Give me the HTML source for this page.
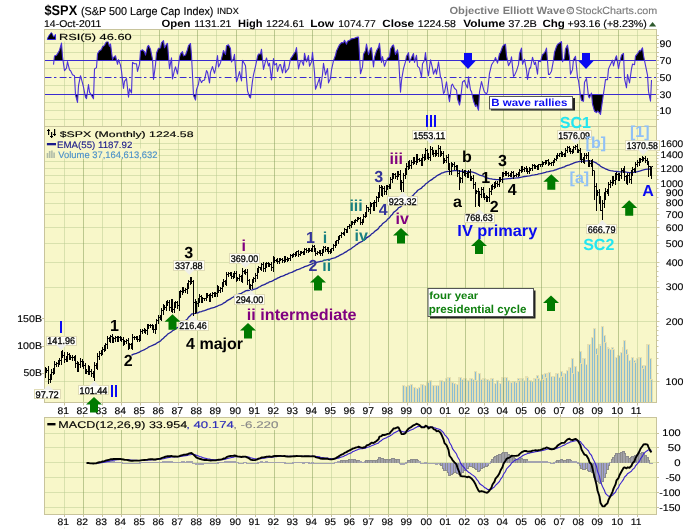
<!DOCTYPE html>
<html><head><meta charset="utf-8"><style>
html,body{margin:0;padding:0;background:#fff;width:700px;height:530px;overflow:hidden}
svg{display:block;will-change:transform}
text{font-family:"Liberation Sans",sans-serif;text-rendering:geometricPrecision}
</style></head><body>
<svg width="700" height="530" viewBox="0 0 700 530">
<rect width="700" height="530" fill="#fff"/>
<rect x="44" y="29" width="613" height="98" fill="#f8f7c9"/>
<rect x="44" y="126" width="613" height="277" fill="#f8f7c9"/>
<rect x="44" y="417" width="613" height="98" fill="#f8f7c9"/>
<rect x="402.0" y="385" width="3" height="17" fill="#e6e1b2"/><rect x="403.0" y="386" width="1" height="16" fill="#8abdd2"/><rect x="404.0" y="386" width="3" height="16" fill="#e6e1b2"/><rect x="405.0" y="387" width="1" height="15" fill="#8abdd2"/><rect x="405.0" y="386" width="3" height="16" fill="#e6e1b2"/><rect x="406.0" y="387" width="1" height="15" fill="#8abdd2"/><rect x="407.0" y="385" width="3" height="17" fill="#e6e1b2"/><rect x="408.0" y="386" width="1" height="16" fill="#8abdd2"/><rect x="408.0" y="385" width="3" height="17" fill="#e6e1b2"/><rect x="409.0" y="386" width="1" height="16" fill="#8abdd2"/><rect x="410.0" y="384" width="3" height="18" fill="#e6e1b2"/><rect x="411.0" y="385" width="1" height="17" fill="#8abdd2"/><rect x="412.0" y="387" width="3" height="15" fill="#e6e1b2"/><rect x="413.0" y="388" width="1" height="14" fill="#8abdd2"/><rect x="413.0" y="387" width="3" height="15" fill="#e6e1b2"/><rect x="414.0" y="388" width="1" height="14" fill="#8abdd2"/><rect x="415.0" y="388" width="3" height="14" fill="#e6e1b2"/><rect x="416.0" y="389" width="1" height="13" fill="#8abdd2"/><rect x="416.0" y="388" width="3" height="14" fill="#e6e1b2"/><rect x="417.0" y="389" width="1" height="13" fill="#8abdd2"/><rect x="418.0" y="387" width="3" height="15" fill="#e6e1b2"/><rect x="419.0" y="388" width="1" height="14" fill="#8abdd2"/><rect x="420.0" y="384" width="3" height="18" fill="#e6e1b2"/><rect x="421.0" y="385" width="1" height="17" fill="#8abdd2"/><rect x="421.0" y="384" width="3" height="18" fill="#e6e1b2"/><rect x="422.0" y="385" width="1" height="17" fill="#8abdd2"/><rect x="423.0" y="385" width="3" height="17" fill="#e6e1b2"/><rect x="424.0" y="386" width="1" height="16" fill="#8abdd2"/><rect x="424.0" y="385" width="3" height="17" fill="#e6e1b2"/><rect x="425.0" y="386" width="1" height="16" fill="#8abdd2"/><rect x="426.0" y="382" width="3" height="20" fill="#e6e1b2"/><rect x="427.0" y="383" width="1" height="19" fill="#8abdd2"/><rect x="427.0" y="382" width="3" height="20" fill="#e6e1b2"/><rect x="428.0" y="383" width="1" height="19" fill="#8abdd2"/><rect x="429.0" y="380" width="3" height="22" fill="#e6e1b2"/><rect x="430.0" y="381" width="1" height="21" fill="#8abdd2"/><rect x="431.0" y="385" width="3" height="17" fill="#e6e1b2"/><rect x="432.0" y="386" width="1" height="16" fill="#8abdd2"/><rect x="432.0" y="385" width="3" height="17" fill="#e6e1b2"/><rect x="433.0" y="386" width="1" height="16" fill="#8abdd2"/><rect x="434.0" y="385" width="3" height="17" fill="#e6e1b2"/><rect x="435.0" y="386" width="1" height="16" fill="#8abdd2"/><rect x="435.0" y="385" width="3" height="17" fill="#e6e1b2"/><rect x="436.0" y="386" width="1" height="16" fill="#8abdd2"/><rect x="437.0" y="385" width="3" height="17" fill="#e6e1b2"/><rect x="438.0" y="386" width="1" height="16" fill="#8abdd2"/><rect x="439.0" y="380" width="3" height="22" fill="#e6e1b2"/><rect x="440.0" y="381" width="1" height="21" fill="#8abdd2"/><rect x="440.0" y="380" width="3" height="22" fill="#e6e1b2"/><rect x="441.0" y="381" width="1" height="21" fill="#8abdd2"/><rect x="442.0" y="381" width="3" height="21" fill="#e6e1b2"/><rect x="443.0" y="382" width="1" height="20" fill="#8abdd2"/><rect x="443.0" y="381" width="3" height="21" fill="#e6e1b2"/><rect x="444.0" y="382" width="1" height="20" fill="#8abdd2"/><rect x="445.0" y="378" width="3" height="24" fill="#e6e1b2"/><rect x="446.0" y="379" width="1" height="23" fill="#8abdd2"/><rect x="447.0" y="377" width="3" height="25" fill="#e6e1b2"/><rect x="448.0" y="378" width="1" height="24" fill="#8abdd2"/><rect x="448.0" y="377" width="3" height="25" fill="#e6e1b2"/><rect x="449.0" y="378" width="1" height="24" fill="#8abdd2"/><rect x="450.0" y="382" width="3" height="20" fill="#e6e1b2"/><rect x="451.0" y="383" width="1" height="19" fill="#8abdd2"/><rect x="451.0" y="382" width="3" height="20" fill="#e6e1b2"/><rect x="452.0" y="383" width="1" height="19" fill="#8abdd2"/><rect x="453.0" y="383" width="3" height="19" fill="#e6e1b2"/><rect x="454.0" y="384" width="1" height="18" fill="#8abdd2"/><rect x="455.0" y="384" width="3" height="18" fill="#e6e1b2"/><rect x="456.0" y="385" width="1" height="17" fill="#8abdd2"/><rect x="456.0" y="384" width="3" height="18" fill="#e6e1b2"/><rect x="457.0" y="385" width="1" height="17" fill="#8abdd2"/><rect x="458.0" y="377" width="3" height="25" fill="#e6e1b2"/><rect x="459.0" y="378" width="1" height="24" fill="#8abdd2"/><rect x="459.0" y="377" width="3" height="25" fill="#e6e1b2"/><rect x="460.0" y="378" width="1" height="24" fill="#8abdd2"/><rect x="461.0" y="379" width="3" height="23" fill="#e6e1b2"/><rect x="462.0" y="380" width="1" height="22" fill="#8abdd2"/><rect x="463.0" y="378" width="3" height="24" fill="#e6e1b2"/><rect x="464.0" y="379" width="1" height="23" fill="#8abdd2"/><rect x="464.0" y="378" width="3" height="24" fill="#e6e1b2"/><rect x="465.0" y="379" width="1" height="23" fill="#8abdd2"/><rect x="466.0" y="380" width="3" height="22" fill="#e6e1b2"/><rect x="467.0" y="381" width="1" height="21" fill="#8abdd2"/><rect x="467.0" y="380" width="3" height="22" fill="#e6e1b2"/><rect x="468.0" y="381" width="1" height="21" fill="#8abdd2"/><rect x="469.0" y="378" width="3" height="24" fill="#e6e1b2"/><rect x="470.0" y="379" width="1" height="23" fill="#8abdd2"/><rect x="470.0" y="378" width="3" height="24" fill="#e6e1b2"/><rect x="471.0" y="379" width="1" height="23" fill="#8abdd2"/><rect x="472.0" y="379" width="3" height="23" fill="#e6e1b2"/><rect x="473.0" y="380" width="1" height="22" fill="#8abdd2"/><rect x="474.0" y="371" width="3" height="31" fill="#e6e1b2"/><rect x="475.0" y="372" width="1" height="30" fill="#8abdd2"/><rect x="475.0" y="380" width="3" height="22" fill="#e6e1b2"/><rect x="476.0" y="381" width="1" height="21" fill="#8abdd2"/><rect x="477.0" y="380" width="3" height="22" fill="#e6e1b2"/><rect x="478.0" y="381" width="1" height="21" fill="#8abdd2"/><rect x="478.0" y="373" width="3" height="29" fill="#e6e1b2"/><rect x="479.0" y="374" width="1" height="28" fill="#8abdd2"/><rect x="480.0" y="379" width="3" height="23" fill="#e6e1b2"/><rect x="481.0" y="380" width="1" height="22" fill="#8abdd2"/><rect x="482.0" y="378" width="3" height="24" fill="#e6e1b2"/><rect x="483.0" y="379" width="1" height="23" fill="#8abdd2"/><rect x="483.0" y="378" width="3" height="24" fill="#e6e1b2"/><rect x="484.0" y="379" width="1" height="23" fill="#8abdd2"/><rect x="485.0" y="379" width="3" height="23" fill="#e6e1b2"/><rect x="486.0" y="380" width="1" height="22" fill="#8abdd2"/><rect x="486.0" y="379" width="3" height="23" fill="#e6e1b2"/><rect x="487.0" y="380" width="1" height="22" fill="#8abdd2"/><rect x="488.0" y="380" width="3" height="22" fill="#e6e1b2"/><rect x="489.0" y="381" width="1" height="21" fill="#8abdd2"/><rect x="490.0" y="378" width="3" height="24" fill="#e6e1b2"/><rect x="491.0" y="379" width="1" height="23" fill="#8abdd2"/><rect x="491.0" y="378" width="3" height="24" fill="#e6e1b2"/><rect x="492.0" y="379" width="1" height="23" fill="#8abdd2"/><rect x="493.0" y="383" width="3" height="19" fill="#e6e1b2"/><rect x="494.0" y="384" width="1" height="18" fill="#8abdd2"/><rect x="494.0" y="383" width="3" height="19" fill="#e6e1b2"/><rect x="495.0" y="384" width="1" height="18" fill="#8abdd2"/><rect x="496.0" y="380" width="3" height="22" fill="#e6e1b2"/><rect x="497.0" y="381" width="1" height="21" fill="#8abdd2"/><rect x="498.0" y="383" width="3" height="19" fill="#e6e1b2"/><rect x="499.0" y="384" width="1" height="18" fill="#8abdd2"/><rect x="499.0" y="383" width="3" height="19" fill="#e6e1b2"/><rect x="500.0" y="384" width="1" height="18" fill="#8abdd2"/><rect x="501.0" y="377" width="3" height="25" fill="#e6e1b2"/><rect x="502.0" y="378" width="1" height="24" fill="#8abdd2"/><rect x="502.0" y="377" width="3" height="25" fill="#e6e1b2"/><rect x="503.0" y="378" width="1" height="24" fill="#8abdd2"/><rect x="504.0" y="382" width="3" height="20" fill="#e6e1b2"/><rect x="505.0" y="383" width="1" height="19" fill="#8abdd2"/><rect x="505.0" y="377" width="3" height="25" fill="#e6e1b2"/><rect x="506.0" y="378" width="1" height="24" fill="#8abdd2"/><rect x="507.0" y="380" width="3" height="22" fill="#e6e1b2"/><rect x="508.0" y="381" width="1" height="21" fill="#8abdd2"/><rect x="509.0" y="382" width="3" height="20" fill="#e6e1b2"/><rect x="510.0" y="383" width="1" height="19" fill="#8abdd2"/><rect x="510.0" y="382" width="3" height="20" fill="#e6e1b2"/><rect x="511.0" y="383" width="1" height="19" fill="#8abdd2"/><rect x="512.0" y="381" width="3" height="21" fill="#e6e1b2"/><rect x="513.0" y="382" width="1" height="20" fill="#8abdd2"/><rect x="513.0" y="381" width="3" height="21" fill="#e6e1b2"/><rect x="514.0" y="382" width="1" height="20" fill="#8abdd2"/><rect x="515.0" y="382" width="3" height="20" fill="#e6e1b2"/><rect x="516.0" y="383" width="1" height="19" fill="#8abdd2"/><rect x="517.0" y="378" width="3" height="24" fill="#e6e1b2"/><rect x="518.0" y="379" width="1" height="23" fill="#8abdd2"/><rect x="518.0" y="380" width="3" height="22" fill="#e6e1b2"/><rect x="519.0" y="381" width="1" height="21" fill="#8abdd2"/><rect x="520.0" y="378" width="3" height="24" fill="#e6e1b2"/><rect x="521.0" y="379" width="1" height="23" fill="#8abdd2"/><rect x="521.0" y="378" width="3" height="24" fill="#e6e1b2"/><rect x="522.0" y="379" width="1" height="23" fill="#8abdd2"/><rect x="523.0" y="380" width="3" height="22" fill="#e6e1b2"/><rect x="524.0" y="381" width="1" height="21" fill="#8abdd2"/><rect x="525.0" y="376" width="3" height="26" fill="#e6e1b2"/><rect x="526.0" y="377" width="1" height="25" fill="#8abdd2"/><rect x="526.0" y="377" width="3" height="25" fill="#e6e1b2"/><rect x="527.0" y="378" width="1" height="24" fill="#8abdd2"/><rect x="528.0" y="380" width="3" height="22" fill="#e6e1b2"/><rect x="529.0" y="381" width="1" height="21" fill="#8abdd2"/><rect x="529.0" y="380" width="3" height="22" fill="#e6e1b2"/><rect x="530.0" y="381" width="1" height="21" fill="#8abdd2"/><rect x="531.0" y="381" width="3" height="21" fill="#e6e1b2"/><rect x="532.0" y="382" width="1" height="20" fill="#8abdd2"/><rect x="533.0" y="378" width="3" height="24" fill="#e6e1b2"/><rect x="534.0" y="379" width="1" height="23" fill="#8abdd2"/><rect x="534.0" y="378" width="3" height="24" fill="#e6e1b2"/><rect x="535.0" y="379" width="1" height="23" fill="#8abdd2"/><rect x="536.0" y="375" width="3" height="27" fill="#e6e1b2"/><rect x="537.0" y="376" width="1" height="26" fill="#8abdd2"/><rect x="537.0" y="378" width="3" height="24" fill="#e6e1b2"/><rect x="538.0" y="379" width="1" height="23" fill="#8abdd2"/><rect x="539.0" y="380" width="3" height="22" fill="#e6e1b2"/><rect x="540.0" y="381" width="1" height="21" fill="#8abdd2"/><rect x="541.0" y="374" width="3" height="28" fill="#e6e1b2"/><rect x="542.0" y="375" width="1" height="27" fill="#8abdd2"/><rect x="542.0" y="379" width="3" height="23" fill="#e6e1b2"/><rect x="543.0" y="380" width="1" height="22" fill="#8abdd2"/><rect x="544.0" y="373" width="3" height="29" fill="#e6e1b2"/><rect x="545.0" y="374" width="1" height="28" fill="#8abdd2"/><rect x="545.0" y="377" width="3" height="25" fill="#e6e1b2"/><rect x="546.0" y="378" width="1" height="24" fill="#8abdd2"/><rect x="547.0" y="373" width="3" height="29" fill="#e6e1b2"/><rect x="548.0" y="374" width="1" height="28" fill="#8abdd2"/><rect x="548.0" y="372" width="3" height="30" fill="#e6e1b2"/><rect x="549.0" y="373" width="1" height="29" fill="#8abdd2"/><rect x="550.0" y="376" width="3" height="26" fill="#e6e1b2"/><rect x="551.0" y="377" width="1" height="25" fill="#8abdd2"/><rect x="552.0" y="376" width="3" height="26" fill="#e6e1b2"/><rect x="553.0" y="377" width="1" height="25" fill="#8abdd2"/><rect x="553.0" y="376" width="3" height="26" fill="#e6e1b2"/><rect x="554.0" y="377" width="1" height="25" fill="#8abdd2"/><rect x="555.0" y="373" width="3" height="29" fill="#e6e1b2"/><rect x="556.0" y="374" width="1" height="28" fill="#8abdd2"/><rect x="556.0" y="373" width="3" height="29" fill="#e6e1b2"/><rect x="557.0" y="374" width="1" height="28" fill="#8abdd2"/><rect x="558.0" y="377" width="3" height="25" fill="#e6e1b2"/><rect x="559.0" y="378" width="1" height="24" fill="#8abdd2"/><rect x="560.0" y="371" width="3" height="31" fill="#e6e1b2"/><rect x="561.0" y="372" width="1" height="30" fill="#8abdd2"/><rect x="561.0" y="376" width="3" height="26" fill="#e6e1b2"/><rect x="562.0" y="377" width="1" height="25" fill="#8abdd2"/><rect x="563.0" y="373" width="3" height="29" fill="#e6e1b2"/><rect x="564.0" y="374" width="1" height="28" fill="#8abdd2"/><rect x="564.0" y="373" width="3" height="29" fill="#e6e1b2"/><rect x="565.0" y="374" width="1" height="28" fill="#8abdd2"/><rect x="566.0" y="370" width="3" height="32" fill="#e6e1b2"/><rect x="567.0" y="371" width="1" height="31" fill="#8abdd2"/><rect x="568.0" y="367" width="3" height="35" fill="#e6e1b2"/><rect x="569.0" y="368" width="1" height="34" fill="#8abdd2"/><rect x="569.0" y="367" width="3" height="35" fill="#e6e1b2"/><rect x="570.0" y="368" width="1" height="34" fill="#8abdd2"/><rect x="571.0" y="358" width="3" height="44" fill="#e6e1b2"/><rect x="572.0" y="359" width="1" height="43" fill="#8abdd2"/><rect x="572.0" y="373" width="3" height="29" fill="#e6e1b2"/><rect x="573.0" y="374" width="1" height="28" fill="#8abdd2"/><rect x="574.0" y="366" width="3" height="36" fill="#e6e1b2"/><rect x="575.0" y="367" width="1" height="35" fill="#8abdd2"/><rect x="576.0" y="371" width="3" height="31" fill="#e6e1b2"/><rect x="577.0" y="372" width="1" height="30" fill="#8abdd2"/><rect x="577.0" y="371" width="3" height="31" fill="#e6e1b2"/><rect x="578.0" y="372" width="1" height="30" fill="#8abdd2"/><rect x="579.0" y="351" width="3" height="51" fill="#e6e1b2"/><rect x="580.0" y="352" width="1" height="50" fill="#8abdd2"/><rect x="580.0" y="363" width="3" height="39" fill="#e6e1b2"/><rect x="581.0" y="364" width="1" height="38" fill="#8abdd2"/><rect x="582.0" y="358" width="3" height="44" fill="#e6e1b2"/><rect x="583.0" y="359" width="1" height="43" fill="#8abdd2"/><rect x="583.0" y="358" width="3" height="44" fill="#e6e1b2"/><rect x="584.0" y="359" width="1" height="43" fill="#8abdd2"/><rect x="585.0" y="364" width="3" height="38" fill="#e6e1b2"/><rect x="586.0" y="365" width="1" height="37" fill="#8abdd2"/><rect x="587.0" y="344" width="3" height="58" fill="#e6e1b2"/><rect x="588.0" y="345" width="1" height="57" fill="#8abdd2"/><rect x="588.0" y="344" width="3" height="58" fill="#e6e1b2"/><rect x="589.0" y="345" width="1" height="57" fill="#8abdd2"/><rect x="590.0" y="361" width="3" height="41" fill="#e6e1b2"/><rect x="591.0" y="362" width="1" height="40" fill="#8abdd2"/><rect x="591.0" y="337" width="3" height="65" fill="#e6e1b2"/><rect x="592.0" y="338" width="1" height="64" fill="#8abdd2"/><rect x="593.0" y="328" width="3" height="74" fill="#e6e1b2"/><rect x="594.0" y="329" width="1" height="73" fill="#8abdd2"/><rect x="595.0" y="348" width="3" height="54" fill="#e6e1b2"/><rect x="596.0" y="349" width="1" height="53" fill="#8abdd2"/><rect x="596.0" y="354" width="3" height="48" fill="#e6e1b2"/><rect x="597.0" y="355" width="1" height="47" fill="#8abdd2"/><rect x="598.0" y="344" width="3" height="58" fill="#e6e1b2"/><rect x="599.0" y="345" width="1" height="57" fill="#8abdd2"/><rect x="599.0" y="345" width="3" height="57" fill="#e6e1b2"/><rect x="600.0" y="346" width="1" height="56" fill="#8abdd2"/><rect x="601.0" y="326" width="3" height="76" fill="#e6e1b2"/><rect x="602.0" y="327" width="1" height="75" fill="#8abdd2"/><rect x="603.0" y="335" width="3" height="67" fill="#e6e1b2"/><rect x="604.0" y="336" width="1" height="66" fill="#8abdd2"/><rect x="604.0" y="342" width="3" height="60" fill="#e6e1b2"/><rect x="605.0" y="343" width="1" height="59" fill="#8abdd2"/><rect x="606.0" y="347" width="3" height="55" fill="#e6e1b2"/><rect x="607.0" y="348" width="1" height="54" fill="#8abdd2"/><rect x="607.0" y="348" width="3" height="54" fill="#e6e1b2"/><rect x="608.0" y="349" width="1" height="53" fill="#8abdd2"/><rect x="609.0" y="349" width="3" height="53" fill="#e6e1b2"/><rect x="610.0" y="350" width="1" height="52" fill="#8abdd2"/><rect x="611.0" y="347" width="3" height="55" fill="#e6e1b2"/><rect x="612.0" y="348" width="1" height="54" fill="#8abdd2"/><rect x="612.0" y="349" width="3" height="53" fill="#e6e1b2"/><rect x="613.0" y="350" width="1" height="52" fill="#8abdd2"/><rect x="614.0" y="357" width="3" height="45" fill="#e6e1b2"/><rect x="615.0" y="358" width="1" height="44" fill="#8abdd2"/><rect x="615.0" y="357" width="3" height="45" fill="#e6e1b2"/><rect x="616.0" y="358" width="1" height="44" fill="#8abdd2"/><rect x="617.0" y="355" width="3" height="47" fill="#e6e1b2"/><rect x="618.0" y="356" width="1" height="46" fill="#8abdd2"/><rect x="618.0" y="355" width="3" height="47" fill="#e6e1b2"/><rect x="619.0" y="356" width="1" height="46" fill="#8abdd2"/><rect x="620.0" y="352" width="3" height="50" fill="#e6e1b2"/><rect x="621.0" y="353" width="1" height="49" fill="#8abdd2"/><rect x="622.0" y="347" width="3" height="55" fill="#e6e1b2"/><rect x="623.0" y="348" width="1" height="54" fill="#8abdd2"/><rect x="623.0" y="340" width="3" height="62" fill="#e6e1b2"/><rect x="624.0" y="341" width="1" height="61" fill="#8abdd2"/><rect x="625.0" y="349" width="3" height="53" fill="#e6e1b2"/><rect x="626.0" y="350" width="1" height="52" fill="#8abdd2"/><rect x="626.0" y="354" width="3" height="48" fill="#e6e1b2"/><rect x="627.0" y="355" width="1" height="47" fill="#8abdd2"/><rect x="628.0" y="360" width="3" height="42" fill="#e6e1b2"/><rect x="629.0" y="361" width="1" height="41" fill="#8abdd2"/><rect x="630.0" y="361" width="3" height="41" fill="#e6e1b2"/><rect x="631.0" y="362" width="1" height="40" fill="#8abdd2"/><rect x="631.0" y="357" width="3" height="45" fill="#e6e1b2"/><rect x="632.0" y="358" width="1" height="44" fill="#8abdd2"/><rect x="633.0" y="360" width="3" height="42" fill="#e6e1b2"/><rect x="634.0" y="361" width="1" height="41" fill="#8abdd2"/><rect x="634.0" y="362" width="3" height="40" fill="#e6e1b2"/><rect x="635.0" y="363" width="1" height="39" fill="#8abdd2"/><rect x="636.0" y="358" width="3" height="44" fill="#e6e1b2"/><rect x="637.0" y="359" width="1" height="43" fill="#8abdd2"/><rect x="638.0" y="357" width="3" height="45" fill="#e6e1b2"/><rect x="639.0" y="358" width="1" height="44" fill="#8abdd2"/><rect x="639.0" y="357" width="3" height="45" fill="#e6e1b2"/><rect x="640.0" y="358" width="1" height="44" fill="#8abdd2"/><rect x="641.0" y="365" width="3" height="37" fill="#e6e1b2"/><rect x="642.0" y="366" width="1" height="36" fill="#8abdd2"/><rect x="642.0" y="368" width="3" height="34" fill="#e6e1b2"/><rect x="643.0" y="369" width="1" height="33" fill="#8abdd2"/><rect x="644.0" y="365" width="3" height="37" fill="#e6e1b2"/><rect x="645.0" y="366" width="1" height="36" fill="#8abdd2"/><rect x="646.0" y="344" width="3" height="58" fill="#e6e1b2"/><rect x="647.0" y="345" width="1" height="57" fill="#8abdd2"/><rect x="647.0" y="344" width="3" height="58" fill="#e6e1b2"/><rect x="648.0" y="345" width="1" height="57" fill="#8abdd2"/><rect x="649.0" y="358" width="3" height="44" fill="#e6e1b2"/><rect x="650.0" y="359" width="1" height="43" fill="#8abdd2"/><rect x="650.0" y="379" width="3" height="23" fill="#e6e1b2"/><rect x="651.0" y="380" width="1" height="22" fill="#8abdd2"/>
<line x1="44" y1="119.5" x2="656" y2="119.5" stroke="#bacb91" stroke-opacity="0.5"/>
<line x1="44" y1="110.5" x2="656" y2="110.5" stroke="#bacb91" stroke-opacity="0.5"/>
<line x1="44" y1="102.5" x2="656" y2="102.5" stroke="#bacb91" stroke-opacity="0.5"/>
<line x1="44" y1="85.5" x2="656" y2="85.5" stroke="#bacb91" stroke-opacity="0.5"/>
<line x1="44" y1="68.5" x2="656" y2="68.5" stroke="#bacb91" stroke-opacity="0.5"/>
<line x1="44" y1="52.5" x2="656" y2="52.5" stroke="#bacb91" stroke-opacity="0.5"/>
<line x1="44" y1="43.5" x2="656" y2="43.5" stroke="#bacb91" stroke-opacity="0.5"/>
<line x1="44" y1="35.5" x2="656" y2="35.5" stroke="#bacb91" stroke-opacity="0.5"/>
<line x1="64.5" y1="30" x2="64.5" y2="126" stroke="#bacb91" stroke-opacity="0.5" stroke-width="1"/>
<line x1="83.5" y1="30" x2="83.5" y2="126" stroke="#809953" stroke-opacity="0.5" stroke-width="1"/>
<line x1="102.5" y1="30" x2="102.5" y2="126" stroke="#bacb91" stroke-opacity="0.5" stroke-width="1"/>
<line x1="121.5" y1="30" x2="121.5" y2="126" stroke="#809953" stroke-opacity="0.5" stroke-width="1"/>
<line x1="140.5" y1="30" x2="140.5" y2="126" stroke="#bacb91" stroke-opacity="0.5" stroke-width="1"/>
<line x1="159.5" y1="30" x2="159.5" y2="126" stroke="#809953" stroke-opacity="0.5" stroke-width="1"/>
<line x1="178.5" y1="30" x2="178.5" y2="126" stroke="#bacb91" stroke-opacity="0.5" stroke-width="1"/>
<line x1="197.5" y1="30" x2="197.5" y2="126" stroke="#809953" stroke-opacity="0.5" stroke-width="1"/>
<line x1="216.5" y1="30" x2="216.5" y2="126" stroke="#bacb91" stroke-opacity="0.5" stroke-width="1"/>
<line x1="236.5" y1="30" x2="236.5" y2="126" stroke="#809953" stroke-opacity="0.5" stroke-width="1"/>
<line x1="255.5" y1="30" x2="255.5" y2="126" stroke="#bacb91" stroke-opacity="0.5" stroke-width="1"/>
<line x1="274.5" y1="30" x2="274.5" y2="126" stroke="#809953" stroke-opacity="0.5" stroke-width="1"/>
<line x1="293.5" y1="30" x2="293.5" y2="126" stroke="#bacb91" stroke-opacity="0.5" stroke-width="1"/>
<line x1="312.5" y1="30" x2="312.5" y2="126" stroke="#809953" stroke-opacity="0.5" stroke-width="1"/>
<line x1="331.5" y1="30" x2="331.5" y2="126" stroke="#bacb91" stroke-opacity="0.5" stroke-width="1"/>
<line x1="350.5" y1="30" x2="350.5" y2="126" stroke="#809953" stroke-opacity="0.5" stroke-width="1"/>
<line x1="369.5" y1="30" x2="369.5" y2="126" stroke="#bacb91" stroke-opacity="0.5" stroke-width="1"/>
<line x1="388.5" y1="30" x2="388.5" y2="126" stroke="#809953" stroke-opacity="0.5" stroke-width="1"/>
<line x1="407.5" y1="30" x2="407.5" y2="126" stroke="#bacb91" stroke-opacity="0.5" stroke-width="1"/>
<line x1="427.5" y1="30" x2="427.5" y2="126" stroke="#809953" stroke-opacity="0.5" stroke-width="1"/>
<line x1="446.5" y1="30" x2="446.5" y2="126" stroke="#bacb91" stroke-opacity="0.5" stroke-width="1"/>
<line x1="465.5" y1="30" x2="465.5" y2="126" stroke="#809953" stroke-opacity="0.5" stroke-width="1"/>
<line x1="484.5" y1="30" x2="484.5" y2="126" stroke="#bacb91" stroke-opacity="0.5" stroke-width="1"/>
<line x1="503.5" y1="30" x2="503.5" y2="126" stroke="#809953" stroke-opacity="0.5" stroke-width="1"/>
<line x1="522.5" y1="30" x2="522.5" y2="126" stroke="#bacb91" stroke-opacity="0.5" stroke-width="1"/>
<line x1="541.5" y1="30" x2="541.5" y2="126" stroke="#809953" stroke-opacity="0.5" stroke-width="1"/>
<line x1="560.5" y1="30" x2="560.5" y2="126" stroke="#bacb91" stroke-opacity="0.5" stroke-width="1"/>
<line x1="579.5" y1="30" x2="579.5" y2="126" stroke="#809953" stroke-opacity="0.5" stroke-width="1"/>
<line x1="598.5" y1="30" x2="598.5" y2="126" stroke="#bacb91" stroke-opacity="0.5" stroke-width="1"/>
<line x1="618.5" y1="30" x2="618.5" y2="126" stroke="#809953" stroke-opacity="0.5" stroke-width="1"/>
<line x1="637.5" y1="30" x2="637.5" y2="126" stroke="#bacb91" stroke-opacity="0.5" stroke-width="1"/>
<line x1="44" y1="381.5" x2="656" y2="381.5" stroke="#bacb91" stroke-opacity="0.5"/>
<line x1="44" y1="321.5" x2="656" y2="321.5" stroke="#bacb91" stroke-opacity="0.5"/>
<line x1="44" y1="287.5" x2="656" y2="287.5" stroke="#bacb91" stroke-opacity="0.5"/>
<line x1="44" y1="262.5" x2="656" y2="262.5" stroke="#bacb91" stroke-opacity="0.5"/>
<line x1="44" y1="243.5" x2="656" y2="243.5" stroke="#bacb91" stroke-opacity="0.5"/>
<line x1="44" y1="227.5" x2="656" y2="227.5" stroke="#bacb91" stroke-opacity="0.5"/>
<line x1="44" y1="214.5" x2="656" y2="214.5" stroke="#bacb91" stroke-opacity="0.5"/>
<line x1="44" y1="203.5" x2="656" y2="203.5" stroke="#bacb91" stroke-opacity="0.5"/>
<line x1="44" y1="192.5" x2="656" y2="192.5" stroke="#bacb91" stroke-opacity="0.5"/>
<line x1="44" y1="183.5" x2="656" y2="183.5" stroke="#bacb91" stroke-opacity="0.5"/>
<line x1="44" y1="175.5" x2="656" y2="175.5" stroke="#bacb91" stroke-opacity="0.5"/>
<line x1="44" y1="168.5" x2="656" y2="168.5" stroke="#bacb91" stroke-opacity="0.5"/>
<line x1="44" y1="161.5" x2="656" y2="161.5" stroke="#bacb91" stroke-opacity="0.5"/>
<line x1="44" y1="155.5" x2="656" y2="155.5" stroke="#bacb91" stroke-opacity="0.5"/>
<line x1="44" y1="149.5" x2="656" y2="149.5" stroke="#bacb91" stroke-opacity="0.5"/>
<line x1="44" y1="143.5" x2="656" y2="143.5" stroke="#bacb91" stroke-opacity="0.5"/>
<line x1="64.5" y1="127" x2="64.5" y2="402" stroke="#bacb91" stroke-opacity="0.5" stroke-width="1"/>
<line x1="83.5" y1="127" x2="83.5" y2="402" stroke="#809953" stroke-opacity="0.5" stroke-width="1"/>
<line x1="102.5" y1="127" x2="102.5" y2="402" stroke="#bacb91" stroke-opacity="0.5" stroke-width="1"/>
<line x1="121.5" y1="127" x2="121.5" y2="402" stroke="#809953" stroke-opacity="0.5" stroke-width="1"/>
<line x1="140.5" y1="127" x2="140.5" y2="402" stroke="#bacb91" stroke-opacity="0.5" stroke-width="1"/>
<line x1="159.5" y1="127" x2="159.5" y2="402" stroke="#809953" stroke-opacity="0.5" stroke-width="1"/>
<line x1="178.5" y1="127" x2="178.5" y2="402" stroke="#bacb91" stroke-opacity="0.5" stroke-width="1"/>
<line x1="197.5" y1="127" x2="197.5" y2="402" stroke="#809953" stroke-opacity="0.5" stroke-width="1"/>
<line x1="216.5" y1="127" x2="216.5" y2="402" stroke="#bacb91" stroke-opacity="0.5" stroke-width="1"/>
<line x1="236.5" y1="127" x2="236.5" y2="402" stroke="#809953" stroke-opacity="0.5" stroke-width="1"/>
<line x1="255.5" y1="127" x2="255.5" y2="402" stroke="#bacb91" stroke-opacity="0.5" stroke-width="1"/>
<line x1="274.5" y1="127" x2="274.5" y2="402" stroke="#809953" stroke-opacity="0.5" stroke-width="1"/>
<line x1="293.5" y1="127" x2="293.5" y2="402" stroke="#bacb91" stroke-opacity="0.5" stroke-width="1"/>
<line x1="312.5" y1="127" x2="312.5" y2="402" stroke="#809953" stroke-opacity="0.5" stroke-width="1"/>
<line x1="331.5" y1="127" x2="331.5" y2="402" stroke="#bacb91" stroke-opacity="0.5" stroke-width="1"/>
<line x1="350.5" y1="127" x2="350.5" y2="402" stroke="#809953" stroke-opacity="0.5" stroke-width="1"/>
<line x1="369.5" y1="127" x2="369.5" y2="402" stroke="#bacb91" stroke-opacity="0.5" stroke-width="1"/>
<line x1="388.5" y1="127" x2="388.5" y2="402" stroke="#809953" stroke-opacity="0.5" stroke-width="1"/>
<line x1="407.5" y1="127" x2="407.5" y2="402" stroke="#bacb91" stroke-opacity="0.5" stroke-width="1"/>
<line x1="427.5" y1="127" x2="427.5" y2="402" stroke="#809953" stroke-opacity="0.5" stroke-width="1"/>
<line x1="446.5" y1="127" x2="446.5" y2="402" stroke="#bacb91" stroke-opacity="0.5" stroke-width="1"/>
<line x1="465.5" y1="127" x2="465.5" y2="402" stroke="#809953" stroke-opacity="0.5" stroke-width="1"/>
<line x1="484.5" y1="127" x2="484.5" y2="402" stroke="#bacb91" stroke-opacity="0.5" stroke-width="1"/>
<line x1="503.5" y1="127" x2="503.5" y2="402" stroke="#809953" stroke-opacity="0.5" stroke-width="1"/>
<line x1="522.5" y1="127" x2="522.5" y2="402" stroke="#bacb91" stroke-opacity="0.5" stroke-width="1"/>
<line x1="541.5" y1="127" x2="541.5" y2="402" stroke="#809953" stroke-opacity="0.5" stroke-width="1"/>
<line x1="560.5" y1="127" x2="560.5" y2="402" stroke="#bacb91" stroke-opacity="0.5" stroke-width="1"/>
<line x1="579.5" y1="127" x2="579.5" y2="402" stroke="#809953" stroke-opacity="0.5" stroke-width="1"/>
<line x1="598.5" y1="127" x2="598.5" y2="402" stroke="#bacb91" stroke-opacity="0.5" stroke-width="1"/>
<line x1="618.5" y1="127" x2="618.5" y2="402" stroke="#809953" stroke-opacity="0.5" stroke-width="1"/>
<line x1="637.5" y1="127" x2="637.5" y2="402" stroke="#bacb91" stroke-opacity="0.5" stroke-width="1"/>
<line x1="44" y1="433.5" x2="656" y2="433.5" stroke="#bacb91" stroke-opacity="0.5"/>
<line x1="44" y1="447.5" x2="656" y2="447.5" stroke="#bacb91" stroke-opacity="0.5"/>
<line x1="44" y1="462.5" x2="656" y2="462.5" stroke="#bacb91" stroke-opacity="0.5"/>
<line x1="44" y1="477.5" x2="656" y2="477.5" stroke="#bacb91" stroke-opacity="0.5"/>
<line x1="44" y1="492.5" x2="656" y2="492.5" stroke="#bacb91" stroke-opacity="0.5"/>
<line x1="44" y1="507.5" x2="656" y2="507.5" stroke="#bacb91" stroke-opacity="0.5"/>
<line x1="64.5" y1="418" x2="64.5" y2="514" stroke="#bacb91" stroke-opacity="0.5" stroke-width="1"/>
<line x1="83.5" y1="418" x2="83.5" y2="514" stroke="#809953" stroke-opacity="0.5" stroke-width="1"/>
<line x1="102.5" y1="418" x2="102.5" y2="514" stroke="#bacb91" stroke-opacity="0.5" stroke-width="1"/>
<line x1="121.5" y1="418" x2="121.5" y2="514" stroke="#809953" stroke-opacity="0.5" stroke-width="1"/>
<line x1="140.5" y1="418" x2="140.5" y2="514" stroke="#bacb91" stroke-opacity="0.5" stroke-width="1"/>
<line x1="159.5" y1="418" x2="159.5" y2="514" stroke="#809953" stroke-opacity="0.5" stroke-width="1"/>
<line x1="178.5" y1="418" x2="178.5" y2="514" stroke="#bacb91" stroke-opacity="0.5" stroke-width="1"/>
<line x1="197.5" y1="418" x2="197.5" y2="514" stroke="#809953" stroke-opacity="0.5" stroke-width="1"/>
<line x1="216.5" y1="418" x2="216.5" y2="514" stroke="#bacb91" stroke-opacity="0.5" stroke-width="1"/>
<line x1="236.5" y1="418" x2="236.5" y2="514" stroke="#809953" stroke-opacity="0.5" stroke-width="1"/>
<line x1="255.5" y1="418" x2="255.5" y2="514" stroke="#bacb91" stroke-opacity="0.5" stroke-width="1"/>
<line x1="274.5" y1="418" x2="274.5" y2="514" stroke="#809953" stroke-opacity="0.5" stroke-width="1"/>
<line x1="293.5" y1="418" x2="293.5" y2="514" stroke="#bacb91" stroke-opacity="0.5" stroke-width="1"/>
<line x1="312.5" y1="418" x2="312.5" y2="514" stroke="#809953" stroke-opacity="0.5" stroke-width="1"/>
<line x1="331.5" y1="418" x2="331.5" y2="514" stroke="#bacb91" stroke-opacity="0.5" stroke-width="1"/>
<line x1="350.5" y1="418" x2="350.5" y2="514" stroke="#809953" stroke-opacity="0.5" stroke-width="1"/>
<line x1="369.5" y1="418" x2="369.5" y2="514" stroke="#bacb91" stroke-opacity="0.5" stroke-width="1"/>
<line x1="388.5" y1="418" x2="388.5" y2="514" stroke="#809953" stroke-opacity="0.5" stroke-width="1"/>
<line x1="407.5" y1="418" x2="407.5" y2="514" stroke="#bacb91" stroke-opacity="0.5" stroke-width="1"/>
<line x1="427.5" y1="418" x2="427.5" y2="514" stroke="#809953" stroke-opacity="0.5" stroke-width="1"/>
<line x1="446.5" y1="418" x2="446.5" y2="514" stroke="#bacb91" stroke-opacity="0.5" stroke-width="1"/>
<line x1="465.5" y1="418" x2="465.5" y2="514" stroke="#809953" stroke-opacity="0.5" stroke-width="1"/>
<line x1="484.5" y1="418" x2="484.5" y2="514" stroke="#bacb91" stroke-opacity="0.5" stroke-width="1"/>
<line x1="503.5" y1="418" x2="503.5" y2="514" stroke="#809953" stroke-opacity="0.5" stroke-width="1"/>
<line x1="522.5" y1="418" x2="522.5" y2="514" stroke="#bacb91" stroke-opacity="0.5" stroke-width="1"/>
<line x1="541.5" y1="418" x2="541.5" y2="514" stroke="#809953" stroke-opacity="0.5" stroke-width="1"/>
<line x1="560.5" y1="418" x2="560.5" y2="514" stroke="#bacb91" stroke-opacity="0.5" stroke-width="1"/>
<line x1="579.5" y1="418" x2="579.5" y2="514" stroke="#809953" stroke-opacity="0.5" stroke-width="1"/>
<line x1="598.5" y1="418" x2="598.5" y2="514" stroke="#bacb91" stroke-opacity="0.5" stroke-width="1"/>
<line x1="618.5" y1="418" x2="618.5" y2="514" stroke="#809953" stroke-opacity="0.5" stroke-width="1"/>
<line x1="637.5" y1="418" x2="637.5" y2="514" stroke="#bacb91" stroke-opacity="0.5" stroke-width="1"/>
<clipPath id="c70"><rect x="44" y="29" width="612" height="31.400000000000006"/></clipPath>
<clipPath id="c30"><rect x="44" y="94.0" width="612" height="32.0"/></clipPath>
<polygon points="53.5,60.400000000000006 53.5,64.61 54.5,55.94 56.5,55.23 58.5,52.11 59.5,50.2 61.5,43.03 62.5,56.66 64.5,70.78 66.5,68.2 67.5,61.62 69.5,69.91 70.5,70.51 72.5,74.78 74.5,75.78 75.5,94.94 77.5,102.45 78.5,85.6 80.5,75.7 82.5,83.23 83.5,87.15 85.5,97.28 86.5,98.57 88.5,84.48 89.5,92.14 91.5,95.4 93.5,98.81 94.5,68.98 96.5,67.59 97.5,53.69 99.5,50.67 101.5,49.41 102.5,46.79 104.5,45.4 105.5,43.25 107.5,40.19 109.5,46.33 110.5,43.94 112.5,59.5 113.5,57.59 115.5,55.75 117.5,64.26 118.5,59.63 120.5,65.18 121.5,70.99 123.5,88.33 124.5,81.4 126.5,78.5 128.5,97.28 129.5,88.73 131.5,93.04 132.5,62.42 134.5,63.75 136.5,63.78 137.5,71.35 139.5,64.14 140.5,50.9 142.5,49.85 144.5,51.74 145.5,55.22 147.5,46.61 148.5,45.32 150.5,49.31 152.5,59.26 153.5,79.49 155.5,64.76 156.5,52.97 158.5,48.19 160.5,47.96 161.5,42.77 163.5,40.6 164.5,47.82 166.5,44.2 167.5,43.34 169.5,68.77 171.5,57.9 172.5,78.87 174.5,70.12 175.5,66.84 177.5,73.99 179.5,57.09 180.5,53.87 182.5,51.63 183.5,55.86 185.5,55.05 187.5,49.47 188.5,45.61 190.5,43.48 191.5,55.18 193.5,95.47 195.5,100.08 196.5,89.73 198.5,83.95 199.5,77.86 201.5,82.61 202.5,80.82 204.5,80.1 206.5,70.56 207.5,72.19 209.5,82.95 210.5,72.41 212.5,66.54 214.5,73.3 215.5,69.14 217.5,55.53 218.5,66.95 220.5,62.65 222.5,54.59 223.5,50.46 225.5,54.48 226.5,45.86 228.5,44.83 230.5,48.49 231.5,61.93 233.5,58.4 234.5,54.26 236.5,81.71 237.5,79.03 239.5,71.55 241.5,80.85 242.5,60.39 244.5,63.67 245.5,65.84 247.5,90.77 249.5,97.11 250.5,97.85 252.5,80.87 253.5,74.96 255.5,66.33 257.5,56.55 258.5,53.95 260.5,53.91 261.5,49.2 263.5,69.4 265.5,61.08 266.5,57.91 268.5,65.99 269.5,63.19 271.5,79.93 273.5,58.65 274.5,65.04 276.5,63.29 277.5,71.35 279.5,64.71 280.5,64.47 282.5,72.91 284.5,61.58 285.5,72.65 287.5,69.59 288.5,68.79 290.5,58.87 292.5,56.2 293.5,54.31 295.5,51.54 296.5,47.53 298.5,68.92 300.5,60.65 301.5,60.38 303.5,65.29 304.5,53.21 306.5,61.85 308.5,55.47 309.5,66.22 311.5,61.88 312.5,52.21 314.5,72.44 315.5,89.18 317.5,83.93 319.5,78.25 320.5,88.15 322.5,74.54 323.5,63.39 325.5,75.02 327.5,68.48 328.5,82.88 330.5,78.31 331.5,69.97 333.5,60.62 335.5,55.31 336.5,50.98 338.5,46.81 339.5,44.87 341.5,42.54 343.5,42.78 344.5,40.29 346.5,44.26 347.5,41.17 349.5,40.23 351.5,38.85 352.5,38.6 354.5,38.29 355.5,37.78 357.5,37.11 358.5,37.05 360.5,73.76 362.5,66.83 363.5,54.26 365.5,50.42 366.5,44.02 368.5,54.69 370.5,48.24 371.5,47.7 373.5,66.95 374.5,57.22 376.5,50.86 378.5,47.4 379.5,43.24 381.5,62.43 382.5,56.55 384.5,66.31 386.5,60.23 387.5,58.16 389.5,56.7 390.5,49.02 392.5,45.52 393.5,44.94 395.5,54.56 397.5,49.72 398.5,55.79 400.5,92.25 401.5,80.38 403.5,68.53 405.5,61.63 406.5,56.16 408.5,52.68 409.5,62.34 411.5,57.61 413.5,53.55 414.5,62.35 416.5,55.22 417.5,66.05 419.5,68.09 421.5,77.24 422.5,63.68 424.5,60.39 425.5,52.62 427.5,70.21 428.5,75.61 430.5,59.7 432.5,68.43 433.5,74.12 435.5,69.05 436.5,74.18 438.5,61.77 440.5,77.34 441.5,78.55 443.5,93.47 444.5,92.25 446.5,81.79 448.5,96.27 449.5,101.64 451.5,85.25 452.5,84.17 454.5,88.28 456.5,90.07 457.5,98.79 459.5,105.09 460.5,100.0 462.5,82.01 464.5,80.31 465.5,83.65 467.5,88.04 468.5,76.89 470.5,90.16 471.5,91.66 473.5,100.96 475.5,106.42 476.5,104.93 478.5,110.23 479.5,91.85 481.5,81.65 483.5,89.2 484.5,92.1 486.5,93.95 487.5,91.63 489.5,73.26 491.5,65.02 492.5,63.25 494.5,60.52 495.5,57.49 497.5,63.19 499.5,53.55 500.5,52.53 502.5,46.76 503.5,45.26 505.5,44.22 506.5,55.48 508.5,65.63 510.5,61.87 511.5,56.84 513.5,76.42 514.5,75.4 516.5,70.89 518.5,64.65 519.5,53.48 521.5,48.13 522.5,64.29 524.5,59.3 526.5,70.14 527.5,79.43 529.5,68.08 530.5,68.16 532.5,57.24 534.5,64.55 535.5,62.12 537.5,74.12 538.5,60.94 540.5,61.63 542.5,54.19 543.5,54.07 545.5,50.99 546.5,48.08 548.5,74.57 549.5,74.52 551.5,71.18 553.5,60.09 554.5,52.31 556.5,46.51 557.5,44.4 559.5,42.99 561.5,41.61 562.5,61.73 564.5,58.38 565.5,48.89 567.5,44.97 569.5,57.46 570.5,74.16 572.5,69.63 573.5,59.62 575.5,56.33 577.5,77.52 578.5,80.56 580.5,95.68 581.5,100.54 583.5,101.31 584.5,82.19 586.5,78.51 588.5,96.56 589.5,97.8 591.5,92.95 592.5,104.03 594.5,111.2 596.5,112.62 597.5,110.99 599.5,112.84 600.5,114.42 602.5,100.42 604.5,86.81 605.5,79.65 607.5,79.62 608.5,68.88 610.5,64.56 612.5,60.16 613.5,65.88 615.5,58.02 616.5,55.85 618.5,68.58 619.5,63.33 621.5,55.06 623.5,53.29 624.5,78.69 626.5,87.82 627.5,74.47 629.5,82.95 631.5,68.91 632.5,64.05 634.5,64.69 635.5,56.15 637.5,53.68 639.5,50.43 640.5,50.94 642.5,47.79 643.5,55.55 645.5,65.31 647.5,75.08 648.5,91.39 650.5,101.26 651.5,80.06 651.5,60.400000000000006" fill="#000" clip-path="url(#c70)"/>
<polygon points="53.5,94.0 53.5,64.61 54.5,55.94 56.5,55.23 58.5,52.11 59.5,50.2 61.5,43.03 62.5,56.66 64.5,70.78 66.5,68.2 67.5,61.62 69.5,69.91 70.5,70.51 72.5,74.78 74.5,75.78 75.5,94.94 77.5,102.45 78.5,85.6 80.5,75.7 82.5,83.23 83.5,87.15 85.5,97.28 86.5,98.57 88.5,84.48 89.5,92.14 91.5,95.4 93.5,98.81 94.5,68.98 96.5,67.59 97.5,53.69 99.5,50.67 101.5,49.41 102.5,46.79 104.5,45.4 105.5,43.25 107.5,40.19 109.5,46.33 110.5,43.94 112.5,59.5 113.5,57.59 115.5,55.75 117.5,64.26 118.5,59.63 120.5,65.18 121.5,70.99 123.5,88.33 124.5,81.4 126.5,78.5 128.5,97.28 129.5,88.73 131.5,93.04 132.5,62.42 134.5,63.75 136.5,63.78 137.5,71.35 139.5,64.14 140.5,50.9 142.5,49.85 144.5,51.74 145.5,55.22 147.5,46.61 148.5,45.32 150.5,49.31 152.5,59.26 153.5,79.49 155.5,64.76 156.5,52.97 158.5,48.19 160.5,47.96 161.5,42.77 163.5,40.6 164.5,47.82 166.5,44.2 167.5,43.34 169.5,68.77 171.5,57.9 172.5,78.87 174.5,70.12 175.5,66.84 177.5,73.99 179.5,57.09 180.5,53.87 182.5,51.63 183.5,55.86 185.5,55.05 187.5,49.47 188.5,45.61 190.5,43.48 191.5,55.18 193.5,95.47 195.5,100.08 196.5,89.73 198.5,83.95 199.5,77.86 201.5,82.61 202.5,80.82 204.5,80.1 206.5,70.56 207.5,72.19 209.5,82.95 210.5,72.41 212.5,66.54 214.5,73.3 215.5,69.14 217.5,55.53 218.5,66.95 220.5,62.65 222.5,54.59 223.5,50.46 225.5,54.48 226.5,45.86 228.5,44.83 230.5,48.49 231.5,61.93 233.5,58.4 234.5,54.26 236.5,81.71 237.5,79.03 239.5,71.55 241.5,80.85 242.5,60.39 244.5,63.67 245.5,65.84 247.5,90.77 249.5,97.11 250.5,97.85 252.5,80.87 253.5,74.96 255.5,66.33 257.5,56.55 258.5,53.95 260.5,53.91 261.5,49.2 263.5,69.4 265.5,61.08 266.5,57.91 268.5,65.99 269.5,63.19 271.5,79.93 273.5,58.65 274.5,65.04 276.5,63.29 277.5,71.35 279.5,64.71 280.5,64.47 282.5,72.91 284.5,61.58 285.5,72.65 287.5,69.59 288.5,68.79 290.5,58.87 292.5,56.2 293.5,54.31 295.5,51.54 296.5,47.53 298.5,68.92 300.5,60.65 301.5,60.38 303.5,65.29 304.5,53.21 306.5,61.85 308.5,55.47 309.5,66.22 311.5,61.88 312.5,52.21 314.5,72.44 315.5,89.18 317.5,83.93 319.5,78.25 320.5,88.15 322.5,74.54 323.5,63.39 325.5,75.02 327.5,68.48 328.5,82.88 330.5,78.31 331.5,69.97 333.5,60.62 335.5,55.31 336.5,50.98 338.5,46.81 339.5,44.87 341.5,42.54 343.5,42.78 344.5,40.29 346.5,44.26 347.5,41.17 349.5,40.23 351.5,38.85 352.5,38.6 354.5,38.29 355.5,37.78 357.5,37.11 358.5,37.05 360.5,73.76 362.5,66.83 363.5,54.26 365.5,50.42 366.5,44.02 368.5,54.69 370.5,48.24 371.5,47.7 373.5,66.95 374.5,57.22 376.5,50.86 378.5,47.4 379.5,43.24 381.5,62.43 382.5,56.55 384.5,66.31 386.5,60.23 387.5,58.16 389.5,56.7 390.5,49.02 392.5,45.52 393.5,44.94 395.5,54.56 397.5,49.72 398.5,55.79 400.5,92.25 401.5,80.38 403.5,68.53 405.5,61.63 406.5,56.16 408.5,52.68 409.5,62.34 411.5,57.61 413.5,53.55 414.5,62.35 416.5,55.22 417.5,66.05 419.5,68.09 421.5,77.24 422.5,63.68 424.5,60.39 425.5,52.62 427.5,70.21 428.5,75.61 430.5,59.7 432.5,68.43 433.5,74.12 435.5,69.05 436.5,74.18 438.5,61.77 440.5,77.34 441.5,78.55 443.5,93.47 444.5,92.25 446.5,81.79 448.5,96.27 449.5,101.64 451.5,85.25 452.5,84.17 454.5,88.28 456.5,90.07 457.5,98.79 459.5,105.09 460.5,100.0 462.5,82.01 464.5,80.31 465.5,83.65 467.5,88.04 468.5,76.89 470.5,90.16 471.5,91.66 473.5,100.96 475.5,106.42 476.5,104.93 478.5,110.23 479.5,91.85 481.5,81.65 483.5,89.2 484.5,92.1 486.5,93.95 487.5,91.63 489.5,73.26 491.5,65.02 492.5,63.25 494.5,60.52 495.5,57.49 497.5,63.19 499.5,53.55 500.5,52.53 502.5,46.76 503.5,45.26 505.5,44.22 506.5,55.48 508.5,65.63 510.5,61.87 511.5,56.84 513.5,76.42 514.5,75.4 516.5,70.89 518.5,64.65 519.5,53.48 521.5,48.13 522.5,64.29 524.5,59.3 526.5,70.14 527.5,79.43 529.5,68.08 530.5,68.16 532.5,57.24 534.5,64.55 535.5,62.12 537.5,74.12 538.5,60.94 540.5,61.63 542.5,54.19 543.5,54.07 545.5,50.99 546.5,48.08 548.5,74.57 549.5,74.52 551.5,71.18 553.5,60.09 554.5,52.31 556.5,46.51 557.5,44.4 559.5,42.99 561.5,41.61 562.5,61.73 564.5,58.38 565.5,48.89 567.5,44.97 569.5,57.46 570.5,74.16 572.5,69.63 573.5,59.62 575.5,56.33 577.5,77.52 578.5,80.56 580.5,95.68 581.5,100.54 583.5,101.31 584.5,82.19 586.5,78.51 588.5,96.56 589.5,97.8 591.5,92.95 592.5,104.03 594.5,111.2 596.5,112.62 597.5,110.99 599.5,112.84 600.5,114.42 602.5,100.42 604.5,86.81 605.5,79.65 607.5,79.62 608.5,68.88 610.5,64.56 612.5,60.16 613.5,65.88 615.5,58.02 616.5,55.85 618.5,68.58 619.5,63.33 621.5,55.06 623.5,53.29 624.5,78.69 626.5,87.82 627.5,74.47 629.5,82.95 631.5,68.91 632.5,64.05 634.5,64.69 635.5,56.15 637.5,53.68 639.5,50.43 640.5,50.94 642.5,47.79 643.5,55.55 645.5,65.31 647.5,75.08 648.5,91.39 650.5,101.26 651.5,80.06 651.5,94.0" fill="#000" clip-path="url(#c30)"/>
<line x1="44" y1="60.5" x2="656" y2="60.5" stroke="#3a2bd0" stroke-width="1.2"/>
<line x1="44" y1="94.5" x2="656" y2="94.5" stroke="#3a2bd0" stroke-width="1.2"/>
<line x1="44" y1="77.5" x2="656" y2="77.5" stroke="#3a2bd0" stroke-width="1.2" stroke-dasharray="6.8,2.5,2.4,3.3" stroke-dashoffset="-0.7"/>
<polyline points="53.5,64.61 54.5,55.94 56.5,55.23 58.5,52.11 59.5,50.2 61.5,43.03 62.5,56.66 64.5,70.78 66.5,68.2 67.5,61.62 69.5,69.91 70.5,70.51 72.5,74.78 74.5,75.78 75.5,94.94 77.5,102.45 78.5,85.6 80.5,75.7 82.5,83.23 83.5,87.15 85.5,97.28 86.5,98.57 88.5,84.48 89.5,92.14 91.5,95.4 93.5,98.81 94.5,68.98 96.5,67.59 97.5,53.69 99.5,50.67 101.5,49.41 102.5,46.79 104.5,45.4 105.5,43.25 107.5,40.19 109.5,46.33 110.5,43.94 112.5,59.5 113.5,57.59 115.5,55.75 117.5,64.26 118.5,59.63 120.5,65.18 121.5,70.99 123.5,88.33 124.5,81.4 126.5,78.5 128.5,97.28 129.5,88.73 131.5,93.04 132.5,62.42 134.5,63.75 136.5,63.78 137.5,71.35 139.5,64.14 140.5,50.9 142.5,49.85 144.5,51.74 145.5,55.22 147.5,46.61 148.5,45.32 150.5,49.31 152.5,59.26 153.5,79.49 155.5,64.76 156.5,52.97 158.5,48.19 160.5,47.96 161.5,42.77 163.5,40.6 164.5,47.82 166.5,44.2 167.5,43.34 169.5,68.77 171.5,57.9 172.5,78.87 174.5,70.12 175.5,66.84 177.5,73.99 179.5,57.09 180.5,53.87 182.5,51.63 183.5,55.86 185.5,55.05 187.5,49.47 188.5,45.61 190.5,43.48 191.5,55.18 193.5,95.47 195.5,100.08 196.5,89.73 198.5,83.95 199.5,77.86 201.5,82.61 202.5,80.82 204.5,80.1 206.5,70.56 207.5,72.19 209.5,82.95 210.5,72.41 212.5,66.54 214.5,73.3 215.5,69.14 217.5,55.53 218.5,66.95 220.5,62.65 222.5,54.59 223.5,50.46 225.5,54.48 226.5,45.86 228.5,44.83 230.5,48.49 231.5,61.93 233.5,58.4 234.5,54.26 236.5,81.71 237.5,79.03 239.5,71.55 241.5,80.85 242.5,60.39 244.5,63.67 245.5,65.84 247.5,90.77 249.5,97.11 250.5,97.85 252.5,80.87 253.5,74.96 255.5,66.33 257.5,56.55 258.5,53.95 260.5,53.91 261.5,49.2 263.5,69.4 265.5,61.08 266.5,57.91 268.5,65.99 269.5,63.19 271.5,79.93 273.5,58.65 274.5,65.04 276.5,63.29 277.5,71.35 279.5,64.71 280.5,64.47 282.5,72.91 284.5,61.58 285.5,72.65 287.5,69.59 288.5,68.79 290.5,58.87 292.5,56.2 293.5,54.31 295.5,51.54 296.5,47.53 298.5,68.92 300.5,60.65 301.5,60.38 303.5,65.29 304.5,53.21 306.5,61.85 308.5,55.47 309.5,66.22 311.5,61.88 312.5,52.21 314.5,72.44 315.5,89.18 317.5,83.93 319.5,78.25 320.5,88.15 322.5,74.54 323.5,63.39 325.5,75.02 327.5,68.48 328.5,82.88 330.5,78.31 331.5,69.97 333.5,60.62 335.5,55.31 336.5,50.98 338.5,46.81 339.5,44.87 341.5,42.54 343.5,42.78 344.5,40.29 346.5,44.26 347.5,41.17 349.5,40.23 351.5,38.85 352.5,38.6 354.5,38.29 355.5,37.78 357.5,37.11 358.5,37.05 360.5,73.76 362.5,66.83 363.5,54.26 365.5,50.42 366.5,44.02 368.5,54.69 370.5,48.24 371.5,47.7 373.5,66.95 374.5,57.22 376.5,50.86 378.5,47.4 379.5,43.24 381.5,62.43 382.5,56.55 384.5,66.31 386.5,60.23 387.5,58.16 389.5,56.7 390.5,49.02 392.5,45.52 393.5,44.94 395.5,54.56 397.5,49.72 398.5,55.79 400.5,92.25 401.5,80.38 403.5,68.53 405.5,61.63 406.5,56.16 408.5,52.68 409.5,62.34 411.5,57.61 413.5,53.55 414.5,62.35 416.5,55.22 417.5,66.05 419.5,68.09 421.5,77.24 422.5,63.68 424.5,60.39 425.5,52.62 427.5,70.21 428.5,75.61 430.5,59.7 432.5,68.43 433.5,74.12 435.5,69.05 436.5,74.18 438.5,61.77 440.5,77.34 441.5,78.55 443.5,93.47 444.5,92.25 446.5,81.79 448.5,96.27 449.5,101.64 451.5,85.25 452.5,84.17 454.5,88.28 456.5,90.07 457.5,98.79 459.5,105.09 460.5,100.0 462.5,82.01 464.5,80.31 465.5,83.65 467.5,88.04 468.5,76.89 470.5,90.16 471.5,91.66 473.5,100.96 475.5,106.42 476.5,104.93 478.5,110.23 479.5,91.85 481.5,81.65 483.5,89.2 484.5,92.1 486.5,93.95 487.5,91.63 489.5,73.26 491.5,65.02 492.5,63.25 494.5,60.52 495.5,57.49 497.5,63.19 499.5,53.55 500.5,52.53 502.5,46.76 503.5,45.26 505.5,44.22 506.5,55.48 508.5,65.63 510.5,61.87 511.5,56.84 513.5,76.42 514.5,75.4 516.5,70.89 518.5,64.65 519.5,53.48 521.5,48.13 522.5,64.29 524.5,59.3 526.5,70.14 527.5,79.43 529.5,68.08 530.5,68.16 532.5,57.24 534.5,64.55 535.5,62.12 537.5,74.12 538.5,60.94 540.5,61.63 542.5,54.19 543.5,54.07 545.5,50.99 546.5,48.08 548.5,74.57 549.5,74.52 551.5,71.18 553.5,60.09 554.5,52.31 556.5,46.51 557.5,44.4 559.5,42.99 561.5,41.61 562.5,61.73 564.5,58.38 565.5,48.89 567.5,44.97 569.5,57.46 570.5,74.16 572.5,69.63 573.5,59.62 575.5,56.33 577.5,77.52 578.5,80.56 580.5,95.68 581.5,100.54 583.5,101.31 584.5,82.19 586.5,78.51 588.5,96.56 589.5,97.8 591.5,92.95 592.5,104.03 594.5,111.2 596.5,112.62 597.5,110.99 599.5,112.84 600.5,114.42 602.5,100.42 604.5,86.81 605.5,79.65 607.5,79.62 608.5,68.88 610.5,64.56 612.5,60.16 613.5,65.88 615.5,58.02 616.5,55.85 618.5,68.58 619.5,63.33 621.5,55.06 623.5,53.29 624.5,78.69 626.5,87.82 627.5,74.47 629.5,82.95 631.5,68.91 632.5,64.05 634.5,64.69 635.5,56.15 637.5,53.68 639.5,50.43 640.5,50.94 642.5,47.79 643.5,55.55 645.5,65.31 647.5,75.08 648.5,91.39 650.5,101.26 651.5,80.06" fill="none" stroke="#4a30d8" stroke-width="1.1" stroke-linejoin="round"/>
<polyline points="131.5,355.37 132.5,354.66 134.5,353.99 136.5,353.36 137.5,352.8 139.5,352.19 140.5,351.34 142.5,350.49 144.5,349.69 145.5,348.94 147.5,348.03 148.5,347.11 150.5,346.25 152.5,345.47 153.5,344.86 155.5,344.12 156.5,343.18 158.5,342.09 160.5,341.05 161.5,339.78 163.5,338.34 164.5,337.04 166.5,335.59 167.5,334.16 169.5,333.05 171.5,331.71 172.5,330.8 174.5,329.72 175.5,328.61 177.5,327.66 179.5,326.24 180.5,324.74 182.5,323.19 183.5,321.78 185.5,320.41 187.5,318.91 188.5,317.27 190.5,315.56 191.5,314.06 193.5,313.6 195.5,313.46 196.5,313.09 198.5,312.6 199.5,311.98 201.5,311.51 202.5,311.02 204.5,310.55 206.5,309.94 207.5,309.38 209.5,308.98 210.5,308.46 212.5,307.87 214.5,307.37 215.5,306.84 217.5,306.08 218.5,305.47 220.5,304.8 222.5,303.98 223.5,303.06 225.5,302.22 226.5,301.07 228.5,299.92 230.5,298.85 231.5,297.93 233.5,296.99 234.5,296.0 236.5,295.34 237.5,294.67 239.5,293.95 241.5,293.35 242.5,292.45 244.5,291.63 245.5,290.86 247.5,290.48 249.5,290.29 250.5,290.13 252.5,289.79 253.5,289.37 255.5,288.83 257.5,288.07 258.5,287.26 260.5,286.49 261.5,285.6 263.5,284.94 265.5,284.14 266.5,283.31 268.5,282.59 269.5,281.85 271.5,281.31 273.5,280.4 274.5,279.6 276.5,278.81 277.5,278.13 279.5,277.38 280.5,276.66 282.5,276.03 284.5,275.29 285.5,274.67 287.5,274.05 288.5,273.44 290.5,272.75 292.5,272.05 293.5,271.36 295.5,270.65 296.5,269.91 298.5,269.3 300.5,268.63 301.5,267.99 303.5,267.39 304.5,266.69 306.5,266.06 308.5,265.39 309.5,264.8 311.5,264.19 312.5,263.49 314.5,262.93 315.5,262.56 317.5,262.17 319.5,261.74 320.5,261.43 322.5,261.03 323.5,260.51 325.5,260.11 327.5,259.65 328.5,259.35 330.5,259.02 331.5,258.62 333.5,258.12 335.5,257.53 336.5,256.88 338.5,256.11 339.5,255.31 341.5,254.41 343.5,253.56 344.5,252.59 346.5,251.69 347.5,250.67 349.5,249.63 351.5,248.5 352.5,247.4 354.5,246.33 355.5,245.24 357.5,244.12 358.5,243.04 360.5,242.2 362.5,241.33 363.5,240.28 365.5,239.18 366.5,237.83 368.5,236.65 370.5,235.27 371.5,233.93 373.5,232.84 374.5,231.57 376.5,230.11 378.5,228.54 379.5,226.7 381.5,225.24 382.5,223.62 384.5,222.24 386.5,220.74 387.5,219.24 389.5,217.78 390.5,216.09 392.5,214.26 393.5,212.49 395.5,210.9 397.5,209.22 398.5,207.69 400.5,206.88 401.5,205.88 403.5,204.6 405.5,203.14 406.5,201.51 408.5,199.77 409.5,198.28 411.5,196.7 413.5,195.03 414.5,193.57 416.5,191.94 417.5,190.54 419.5,189.25 421.5,188.13 422.5,186.82 424.5,185.49 425.5,183.98 427.5,182.78 428.5,181.72 430.5,180.32 432.5,179.12 433.5,178.08 435.5,176.98 436.5,176.01 438.5,174.84 440.5,173.95 441.5,173.12 443.5,172.63 444.5,172.15 446.5,171.56 448.5,171.34 449.5,171.33 451.5,171.09 452.5,170.84 454.5,170.68 456.5,170.56 457.5,170.65 459.5,170.99 460.5,171.26 462.5,171.31 464.5,171.33 465.5,171.41 467.5,171.54 468.5,171.56 470.5,171.76 471.5,171.99 473.5,172.41 475.5,173.04 476.5,173.63 478.5,174.48 479.5,175.11 481.5,175.59 483.5,176.21 484.5,176.88 486.5,177.57 487.5,178.22 489.5,178.65 491.5,178.94 492.5,179.18 494.5,179.38 495.5,179.51 497.5,179.67 499.5,179.67 500.5,179.65 502.5,179.47 503.5,179.24 505.5,178.98 506.5,178.79 508.5,178.66 510.5,178.49 511.5,178.27 513.5,178.17 514.5,178.07 516.5,177.95 518.5,177.78 519.5,177.49 521.5,177.11 522.5,176.83 524.5,176.5 526.5,176.25 527.5,176.07 529.5,175.8 530.5,175.54 532.5,175.18 534.5,174.86 535.5,174.54 537.5,174.29 538.5,173.93 540.5,173.59 542.5,173.18 543.5,172.78 545.5,172.36 546.5,171.91 548.5,171.59 549.5,171.29 551.5,170.98 553.5,170.6 554.5,170.16 556.5,169.63 557.5,169.06 559.5,168.48 561.5,167.86 562.5,167.35 564.5,166.83 565.5,166.17 567.5,165.43 569.5,164.78 570.5,164.28 572.5,163.75 573.5,163.12 575.5,162.46 577.5,161.99 578.5,161.57 580.5,161.38 581.5,161.31 583.5,161.26 584.5,161.06 586.5,160.84 588.5,160.91 589.5,161.0 591.5,161.05 592.5,161.38 594.5,162.16 596.5,163.1 597.5,164.0 599.5,165.06 600.5,166.32 602.5,167.4 604.5,168.26 605.5,168.98 607.5,169.68 608.5,170.18 610.5,170.58 612.5,170.87 613.5,171.21 615.5,171.38 616.5,171.49 618.5,171.7 619.5,171.83 621.5,171.78 623.5,171.69 624.5,171.86 626.5,172.18 627.5,172.3 629.5,172.55 631.5,172.55 632.5,172.44 634.5,172.34 635.5,172.04 637.5,171.67 639.5,171.21 640.5,170.77 642.5,170.25 643.5,169.8 645.5,169.43 647.5,169.15 648.5,169.07 650.5,169.22 651.5,169.12" fill="none" stroke="#22229a" stroke-width="1.3"/>
<path d="M45.5 367V378M44.0 374.5H45.5M45.5 369.5H47.0M46.5 368V373M45.0 369.5H46.5M46.5 370.5H48.0M48.5 366V384M47.0 370.5H48.5M48.5 379.5H50.0M50.5 374V383M49.0 379.5H50.5M50.5 375.5H52.0M51.5 369V380M50.0 375.5H51.5M51.5 372.5H53.0M53.5 368V375M52.0 372.5H53.5M53.5 369.5H55.0M54.5 361V374M53.0 369.5H54.5M54.5 364.5H56.0M56.5 362V367M55.0 364.5H56.5M56.5 363.5H58.0M58.5 360V367M57.0 363.5H58.5M58.5 361.5H60.0M59.5 358V365M58.0 361.5H59.5M59.5 360.5H61.0M61.5 351V365M60.0 360.5H61.5M61.5 352.5H63.0M62.5 350V358M61.0 352.5H62.5M62.5 355.5H64.0M64.5 352V363M63.0 355.5H64.5M64.5 359.5H66.0M66.5 356V362M65.0 359.5H66.5M66.5 357.5H68.0M67.5 352V362M66.0 357.5H67.5M67.5 354.5H69.0M69.5 353V360M68.0 354.5H69.5M69.5 356.5H71.0M70.5 355V360M69.0 356.5H70.5M70.5 357.5H72.0M72.5 355V361M71.0 357.5H72.5M72.5 357.5H74.0M74.5 356V361M73.0 357.5H74.5M74.5 358.5H76.0M75.5 355V368M74.0 358.5H75.5M75.5 363.5H77.0M77.5 361V372M76.0 363.5H77.5M77.5 368.5H79.0M78.5 362V372M77.0 368.5H78.5M78.5 364.5H80.0M80.5 358V368M79.0 364.5H80.5M80.5 361.5H82.0M82.5 359V367M81.0 361.5H82.5M82.5 363.5H84.0M83.5 361V369M82.0 363.5H83.5M83.5 365.5H85.0M85.5 363V374M84.0 365.5H85.5M85.5 370.5H87.0M86.5 369V374M85.0 370.5H86.5M86.5 371.5H88.0M88.5 365V375M87.0 371.5H88.5M88.5 368.5H90.0M89.5 366V375M88.0 368.5H89.5M89.5 371.5H91.0M91.5 369V377M90.0 371.5H91.5M91.5 373.5H93.0M93.5 371V378M92.0 373.5H93.5M93.5 375.5H95.0M94.5 362V381M93.0 375.5H94.5M94.5 365.5H96.0M96.5 363V369M95.0 365.5H96.5M96.5 365.5H98.0M97.5 353V370M96.0 365.5H97.5M97.5 356.5H99.0M99.5 351V360M98.0 356.5H99.5M99.5 353.5H101.0M101.5 350V356M100.0 353.5H101.5M101.5 351.5H103.0M102.5 347V355M101.0 351.5H102.5M102.5 349.5H104.0M104.5 345V352M103.0 349.5H104.5M104.5 347.5H106.0M105.5 343V351M104.0 347.5H105.5M105.5 344.5H107.0M107.5 336V349M106.0 344.5H107.5M107.5 338.5H109.0M109.5 337V342M108.0 338.5H109.5M109.5 339.5H111.0M110.5 335V343M109.0 339.5H110.5M110.5 336.5H112.0M112.5 334V343M111.0 336.5H112.5M112.5 339.5H114.0M113.5 337V343M112.0 339.5H113.5M113.5 338.5H115.0M115.5 336V342M114.0 338.5H115.5M115.5 337.5H117.0M117.5 336V342M116.0 337.5H117.5M117.5 339.5H119.0M118.5 336V342M117.0 339.5H118.5M118.5 337.5H120.0M120.5 336V341M119.0 337.5H120.5M120.5 338.5H122.0M121.5 337V342M120.0 338.5H121.5M121.5 339.5H123.0M123.5 337V346M122.0 339.5H123.5M123.5 342.5H125.0M124.5 340V345M123.0 342.5H124.5M124.5 341.5H126.0M126.5 339V344M125.0 341.5H126.5M126.5 340.5H128.0M128.5 338V350M127.0 340.5H128.5M128.5 346.5H130.0M129.5 343V349M128.0 346.5H129.5M129.5 344.5H131.0M131.5 343V349M130.0 344.5H131.5M131.5 346.5H133.0M132.5 334V350M131.0 346.5H132.5M132.5 337.5H134.0M134.5 336V340M133.0 337.5H134.5M134.5 337.5H136.0M136.5 336V340M135.0 337.5H136.5M136.5 337.5H138.0M137.5 336V342M136.0 337.5H137.5M137.5 339.5H139.0M139.5 335V342M138.0 339.5H139.5M139.5 337.5H141.0M140.5 329V341M139.0 337.5H140.5M140.5 331.5H142.0M142.5 329V334M141.0 331.5H142.5M142.5 330.5H144.0M144.5 328V333M143.0 330.5H144.5M144.5 330.5H146.0M145.5 329V334M144.0 330.5H145.5M145.5 330.5H147.0M147.5 324V335M146.0 330.5H147.5M147.5 326.5H149.0M148.5 324V329M147.0 326.5H148.5M148.5 325.5H150.0M150.5 324V328M149.0 325.5H150.5M150.5 325.5H152.0M152.5 324V330M151.0 325.5H152.5M152.5 326.5H154.0M153.5 325V333M152.0 326.5H153.5M153.5 329.5H155.0M155.5 324V334M154.0 329.5H155.5M155.5 326.5H157.0M156.5 319V330M155.0 326.5H156.5M156.5 320.5H158.0M158.5 315V324M157.0 320.5H158.5M158.5 317.5H160.0M160.5 315V320M159.0 317.5H160.5M160.5 316.5H162.0M161.5 308V321M160.0 316.5H161.5M161.5 310.5H163.0M163.5 304V315M162.0 310.5H163.5M163.5 306.5H165.0M164.5 305V310M163.0 306.5H164.5M164.5 307.5H166.0M166.5 301V311M165.0 307.5H166.5M166.5 303.5H168.0M167.5 300V306M166.0 303.5H167.5M167.5 302.5H169.0M169.5 300V311M168.0 302.5H169.5M169.5 307.5H171.0M171.5 299V312M170.0 307.5H171.5M171.5 301.5H173.0M172.5 299V313M171.0 301.5H172.5M172.5 309.5H174.0M174.5 302V313M173.0 309.5H174.5M174.5 304.5H176.0M175.5 301V308M174.0 304.5H175.5M175.5 302.5H177.0M177.5 301V309M176.0 302.5H177.5M177.5 305.5H179.0M179.5 291V311M178.0 305.5H179.5M179.5 294.5H181.0M180.5 290V298M179.0 294.5H180.5M180.5 291.5H182.0M182.5 287V295M181.0 291.5H182.5M182.5 289.5H184.0M183.5 287V293M182.0 289.5H183.5M183.5 290.5H185.0M185.5 288V293M184.0 290.5H185.5M185.5 289.5H187.0M187.5 283V294M186.0 289.5H187.5M187.5 285.5H189.0M188.5 280V289M187.0 285.5H188.5M188.5 281.5H190.0M190.5 277V285M189.0 281.5H190.5M190.5 278.5H192.0M191.5 277V284M190.0 278.5H191.5M191.5 281.5H193.0M193.5 280V316M192.0 281.5H193.5M193.5 302.5H195.0M195.5 299V314M194.0 302.5H195.5M195.5 309.5H197.0M196.5 301V313M195.0 309.5H196.5M196.5 303.5H198.0M198.5 298V307M197.0 303.5H198.5M198.5 300.5H200.0M199.5 294V303M198.0 300.5H199.5M199.5 296.5H201.0M201.5 295V303M200.0 296.5H201.5M201.5 299.5H203.0M202.5 297V303M201.0 299.5H202.5M202.5 298.5H204.0M204.5 298V301M203.0 298.5H204.5M204.5 298.5H206.0M206.5 293V301M205.0 298.5H206.5M206.5 294.5H208.0M207.5 293V298M206.0 294.5H207.5M207.5 295.5H209.0M209.5 294V302M208.0 295.5H209.5M209.5 298.5H211.0M210.5 293V302M209.0 298.5H210.5M210.5 295.5H212.0M212.5 292V298M211.0 295.5H212.5M212.5 293.5H214.0M214.5 292V297M213.0 293.5H214.5M214.5 294.5H216.0M215.5 292V297M214.0 294.5H215.5M215.5 293.5H217.0M217.5 285V297M216.0 293.5H217.5M217.5 287.5H219.0M218.5 286V293M217.0 287.5H218.5M218.5 290.5H220.0M220.5 287V293M219.0 290.5H220.5M220.5 288.5H222.0M222.5 282V292M221.0 288.5H222.5M222.5 284.5H224.0M223.5 279V287M222.0 284.5H223.5M223.5 281.5H225.0M225.5 280V285M224.0 281.5H225.5M225.5 282.5H227.0M226.5 272V286M225.0 282.5H226.5M226.5 274.5H228.0M228.5 272V277M227.0 274.5H228.5M228.5 273.5H230.0M230.5 272V276M229.0 273.5H230.5M230.5 274.5H232.0M231.5 272V279M230.0 274.5H231.5M231.5 276.5H233.0M233.5 273V279M232.0 276.5H233.5M233.5 274.5H235.0M234.5 271V278M233.0 274.5H234.5M234.5 273.5H236.0M236.5 271V282M235.0 273.5H236.5M236.5 279.5H238.0M237.5 277V281M236.0 279.5H237.5M237.5 278.5H239.0M239.5 274V281M238.0 278.5H239.5M239.5 276.5H241.0M241.5 275V282M240.0 276.5H241.5M241.5 278.5H243.0M242.5 268V283M241.0 278.5H242.5M242.5 271.5H244.0M244.5 270V274M243.0 271.5H244.5M244.5 271.5H246.0M245.5 269V275M244.0 271.5H245.5M245.5 272.5H247.0M247.5 269V285M246.0 272.5H247.5M247.5 280.5H249.0M249.5 279V289M248.0 280.5H249.5M249.5 285.5H251.0M250.5 284V290M249.0 285.5H250.5M250.5 285.5H252.0M252.5 279V289M251.0 285.5H252.5M252.5 280.5H254.0M253.5 277V283M252.0 280.5H253.5M253.5 278.5H255.0M255.5 273V282M254.0 278.5H255.5M255.5 275.5H257.0M257.5 268V279M256.0 275.5H257.5M257.5 269.5H259.0M258.5 266V273M257.0 269.5H258.5M258.5 267.5H260.0M260.5 267V270M259.0 267.5H260.5M260.5 267.5H262.0M261.5 263V271M260.0 267.5H261.5M261.5 264.5H263.0M263.5 262V272M262.0 264.5H263.5M263.5 268.5H265.0M265.5 263V272M264.0 268.5H265.5M265.5 265.5H267.0M266.5 262V268M265.0 265.5H266.5M266.5 263.5H268.0M268.5 262V267M267.0 263.5H268.5M268.5 265.5H270.0M269.5 263V267M268.0 265.5H269.5M269.5 264.5H271.0M271.5 262V271M270.0 264.5H271.5M271.5 267.5H273.0M273.5 256V272M272.0 267.5H273.5M273.5 258.5H275.0M274.5 257V263M273.0 258.5H274.5M274.5 260.5H276.0M276.5 259V262M275.0 260.5H276.5M276.5 259.5H278.0M277.5 258V264M276.0 259.5H277.5M277.5 261.5H279.0M279.5 258V264M278.0 261.5H279.5M279.5 259.5H281.0M280.5 258V261M279.0 259.5H280.5M280.5 259.5H282.0M282.5 258V263M281.0 259.5H282.5M282.5 260.5H284.0M284.5 256V263M283.0 260.5H284.5M284.5 257.5H286.0M285.5 256V262M284.0 257.5H285.5M285.5 259.5H287.0M287.5 257V262M286.0 259.5H287.5M287.5 258.5H289.0M288.5 258V261M287.0 258.5H288.5M288.5 258.5H290.0M290.5 254V261M289.0 258.5H290.5M290.5 255.5H292.0M292.5 254V258M291.0 255.5H292.5M292.5 255.5H294.0M293.5 253V257M292.0 255.5H293.5M293.5 254.5H295.0M295.5 252V257M294.0 254.5H295.5M295.5 253.5H297.0M296.5 251V256M295.0 253.5H296.5M296.5 251.5H298.0M298.5 250V257M297.0 251.5H298.5M298.5 254.5H300.0M300.5 251V256M299.0 254.5H300.5M300.5 252.5H302.0M301.5 251V254M300.0 252.5H301.5M301.5 252.5H303.0M303.5 251V255M302.0 252.5H303.5M303.5 252.5H305.0M304.5 248V255M303.0 252.5H304.5M304.5 249.5H306.0M306.5 248V253M305.0 249.5H306.5M306.5 250.5H308.0M308.5 248V253M307.0 250.5H308.5M308.5 248.5H310.0M309.5 248V252M308.0 248.5H309.5M309.5 250.5H311.0M311.5 248V252M310.0 250.5H311.5M311.5 249.5H313.0M312.5 245V252M311.0 249.5H312.5M312.5 246.5H314.0M314.5 245V252M313.0 246.5H314.5M314.5 249.5H316.0M315.5 248V256M314.0 249.5H315.5M315.5 253.5H317.0M317.5 251V255M316.0 253.5H317.5M317.5 252.5H319.0M319.5 250V254M318.0 252.5H319.5M319.5 251.5H321.0M320.5 250V256M319.0 251.5H320.5M320.5 253.5H322.0M322.5 249V256M321.0 253.5H322.5M322.5 250.5H324.0M323.5 246V253M322.0 250.5H323.5M323.5 247.5H325.0M325.5 246V252M324.0 247.5H325.5M325.5 249.5H327.0M327.5 247V252M326.0 249.5H327.5M327.5 248.5H329.0M328.5 247V254M327.0 248.5H328.5M328.5 251.5H330.0M330.5 249V254M329.0 251.5H330.5M330.5 250.5H332.0M331.5 248V253M330.0 250.5H331.5M331.5 248.5H333.0M333.5 244V251M332.0 248.5H333.5M333.5 245.5H335.0M335.5 241V248M334.0 245.5H335.5M335.5 243.5H337.0M336.5 240V246M335.0 243.5H336.5M336.5 240.5H338.0M338.5 236V244M337.0 240.5H338.5M338.5 237.5H340.0M339.5 235V240M338.0 237.5H339.5M339.5 235.5H341.0M341.5 232V238M340.0 235.5H341.5M341.5 233.5H343.0M343.5 232V235M342.0 233.5H343.5M343.5 233.5H345.0M344.5 228V236M343.0 233.5H344.5M344.5 229.5H346.0M346.5 229V233M345.0 229.5H346.5M346.5 230.5H348.0M347.5 226V233M346.0 230.5H347.5M347.5 226.5H349.0M349.5 224V229M348.0 226.5H349.5M349.5 225.5H351.0M351.5 221V228M350.0 225.5H351.5M351.5 222.5H353.0M352.5 221V225M351.0 222.5H352.5M352.5 222.5H354.0M354.5 220V225M353.0 222.5H354.5M354.5 221.5H356.0M355.5 219V223M354.0 221.5H355.5M355.5 220.5H357.0M357.5 217V222M356.0 220.5H357.5M357.5 218.5H359.0M358.5 217V220M357.0 218.5H358.5M358.5 218.5H360.0M360.5 217V225M359.0 218.5H360.5M360.5 222.5H362.0M362.5 219V225M361.0 222.5H362.5M362.5 220.5H364.0M363.5 214V223M362.0 220.5H363.5M363.5 216.5H365.0M365.5 212V218M364.0 216.5H365.5M365.5 213.5H367.0M366.5 205V217M365.0 213.5H366.5M366.5 207.5H368.0M368.5 207V212M367.0 207.5H368.5M368.5 209.5H370.0M370.5 202V214M369.0 209.5H370.5M370.5 204.5H372.0M371.5 203V207M370.0 204.5H371.5M371.5 203.5H373.0M373.5 202V211M372.0 203.5H373.5M373.5 207.5H375.0M374.5 200V211M373.0 207.5H374.5M374.5 202.5H376.0M376.5 196V207M375.0 202.5H376.5M376.5 197.5H378.0M378.5 192V202M377.0 197.5H378.5M378.5 194.5H380.0M379.5 185V198M378.0 194.5H379.5M379.5 187.5H381.0M381.5 185V196M380.0 187.5H381.5M381.5 192.5H383.0M382.5 186V197M381.0 192.5H382.5M382.5 188.5H384.0M384.5 186V195M383.0 188.5H384.5M384.5 191.5H386.0M386.5 185V195M385.0 191.5H386.5M386.5 187.5H388.0M387.5 185V190M386.0 187.5H387.5M387.5 186.5H389.0M389.5 184V189M388.0 186.5H389.5M389.5 185.5H391.0M390.5 177V189M389.0 185.5H390.5M390.5 179.5H392.0M392.5 173V183M391.0 179.5H392.5M392.5 175.5H394.0M393.5 173V179M392.0 175.5H393.5M393.5 174.5H395.0M395.5 173V179M394.0 174.5H395.5M395.5 176.5H397.0M397.5 171V180M396.0 176.5H397.5M397.5 173.5H399.0M398.5 171V177M397.0 173.5H398.5M398.5 174.5H400.0M400.5 170V190M399.0 174.5H400.5M400.5 187.5H402.0M401.5 180V192M400.0 187.5H401.5M401.5 182.5H403.0M403.5 173V192M402.0 182.5H403.5M403.5 175.5H405.0M405.5 168V179M404.0 175.5H405.5M405.5 170.5H407.0M406.5 163V175M405.0 170.5H406.5M406.5 166.5H408.0M408.5 161V170M407.0 166.5H408.5M408.5 162.5H410.0M409.5 160V169M408.0 162.5H409.5M409.5 165.5H411.0M411.5 160V169M410.0 165.5H411.5M411.5 162.5H413.0M413.5 157V165M412.0 162.5H413.5M413.5 159.5H415.0M414.5 157V164M413.0 159.5H414.5M414.5 161.5H416.0M416.5 154V165M415.0 161.5H416.5M416.5 156.5H418.0M417.5 154V163M416.0 156.5H417.5M417.5 159.5H419.0M419.5 158V162M418.0 159.5H419.5M419.5 160.5H421.0M421.5 158V166M420.0 160.5H421.5M421.5 162.5H423.0M422.5 154V166M421.0 162.5H422.5M422.5 157.5H424.0M424.5 154V161M423.0 157.5H424.5M424.5 155.5H426.0M425.5 148V160M424.0 155.5H425.5M425.5 150.5H427.0M427.5 149V159M426.0 150.5H427.5M427.5 155.5H429.0M428.5 153V160M427.0 155.5H428.5M428.5 157.5H430.0M430.5 146V161M429.0 157.5H430.5M430.5 149.5H432.0M432.5 147V155M431.0 149.5H432.5M432.5 151.5H434.0M433.5 150V157M432.0 151.5H433.5M433.5 153.5H435.0M435.5 150V157M434.0 153.5H435.5M435.5 151.5H437.0M436.5 150V156M435.0 151.5H436.5M436.5 153.5H438.0M438.5 145V157M437.0 153.5H438.5M438.5 148.5H440.0M440.5 146V157M439.0 148.5H440.5M440.5 152.5H442.0M441.5 151V156M440.0 152.5H441.5M441.5 153.5H443.0M443.5 151V164M442.0 153.5H443.5M443.5 160.5H445.0M444.5 158V163M443.0 160.5H444.5M444.5 160.5H446.0M446.5 155V163M445.0 160.5H446.5M446.5 157.5H448.0M448.5 154V170M447.0 157.5H448.5M448.5 165.5H450.0M449.5 163V175M448.0 165.5H449.5M449.5 171.5H451.0M451.5 162V175M450.0 171.5H451.5M451.5 164.5H453.0M452.5 163V167M451.0 164.5H452.5M452.5 164.5H454.0M454.5 162V170M453.0 164.5H454.5M454.5 166.5H456.0M456.5 165V170M455.0 166.5H456.5M456.5 167.5H458.0M457.5 165V177M456.0 167.5H457.5M457.5 173.5H459.0M459.5 170V190M458.0 173.5H459.5M459.5 180.5H461.0M460.5 177V183M459.0 180.5H460.5M460.5 178.5H462.0M462.5 169V183M461.0 178.5H462.5M462.5 172.5H464.0M464.5 170V176M463.0 172.5H464.5M464.5 172.5H466.0M465.5 170V177M464.0 172.5H465.5M465.5 173.5H467.0M467.5 172V178M466.0 173.5H467.5M467.5 175.5H469.0M468.5 170V178M467.0 175.5H468.5M468.5 172.5H470.0M470.5 169V181M469.0 172.5H470.5M470.5 177.5H472.0M471.5 176V181M470.0 177.5H471.5M471.5 178.5H473.0M473.5 175V189M472.0 178.5H473.5M473.5 184.5H475.0M475.5 182V207M474.0 184.5H475.5M475.5 191.5H477.0M476.5 190V194M475.0 191.5H476.5M476.5 191.5H478.0M478.5 188V206M477.0 191.5H478.5M478.5 201.5H480.0M479.5 191V207M478.0 201.5H479.5M479.5 194.5H481.0M481.5 187V198M480.0 194.5H481.5M481.5 189.5H483.0M483.5 187V198M482.0 189.5H483.5M483.5 194.5H485.0M484.5 193V200M483.0 194.5H484.5M484.5 197.5H486.0M486.5 195V202M485.0 197.5H486.5M486.5 198.5H488.0M487.5 196V202M486.0 198.5H487.5M487.5 197.5H489.0M489.5 188V202M488.0 197.5H489.5M489.5 191.5H491.0M491.5 185V195M490.0 191.5H491.5M491.5 187.5H493.0M492.5 184V190M491.0 187.5H492.5M492.5 186.5H494.0M494.5 182V189M493.0 186.5H494.5M494.5 184.5H496.0M495.5 181V188M494.0 184.5H495.5M495.5 183.5H497.0M497.5 181V187M496.0 183.5H497.5M497.5 184.5H499.0M499.5 177V187M498.0 184.5H499.5M499.5 179.5H501.0M500.5 177V182M499.0 179.5H500.5M500.5 179.5H502.0M502.5 172V183M501.0 179.5H502.5M502.5 174.5H504.0M503.5 172V177M502.0 174.5H503.5M503.5 173.5H505.0M505.5 171V176M504.0 173.5H505.5M505.5 172.5H507.0M506.5 171V176M505.0 172.5H506.5M506.5 173.5H508.0M508.5 172V177M507.0 173.5H508.5M508.5 175.5H510.0M510.5 173V177M509.0 175.5H510.5M510.5 174.5H512.0M511.5 171V177M510.0 174.5H511.5M511.5 172.5H513.0M513.5 171V179M512.0 172.5H513.5M513.5 175.5H515.0M514.5 175V177M513.0 175.5H514.5M514.5 175.5H516.0M516.5 173V177M515.0 175.5H516.5M516.5 174.5H518.0M518.5 172V177M517.0 174.5H518.5M518.5 173.5H520.0M519.5 169V176M518.0 173.5H519.5M519.5 170.5H521.0M521.5 166V173M520.0 170.5H521.5M521.5 167.5H523.0M522.5 166V172M521.0 167.5H522.5M522.5 169.5H524.0M524.5 167V172M523.0 169.5H524.5M524.5 168.5H526.0M526.5 166V172M525.0 168.5H526.5M526.5 169.5H528.0M527.5 168V174M526.0 169.5H527.5M527.5 171.5H529.0M529.5 167V174M528.0 171.5H529.5M529.5 168.5H531.0M530.5 168V171M529.0 168.5H530.5M530.5 168.5H532.0M532.5 164V171M531.0 168.5H532.5M532.5 165.5H534.0M534.5 164V169M533.0 165.5H534.5M534.5 166.5H536.0M535.5 165V169M534.0 166.5H535.5M535.5 166.5H537.0M537.5 165V170M536.0 166.5H537.5M537.5 167.5H539.0M538.5 164V170M537.0 167.5H538.5M538.5 164.5H540.0M540.5 164V167M539.0 164.5H540.5M540.5 164.5H542.0M542.5 161V167M541.0 164.5H542.5M542.5 162.5H544.0M543.5 162V165M542.0 162.5H543.5M543.5 162.5H545.0M545.5 160V165M544.0 162.5H545.5M545.5 161.5H547.0M546.5 160V164M545.0 161.5H546.5M546.5 160.5H548.0M548.5 159V166M547.0 160.5H548.5M548.5 163.5H550.0M549.5 162V165M548.0 163.5H549.5M549.5 163.5H551.0M551.5 162V166M550.0 163.5H551.5M551.5 162.5H553.0M553.5 160V166M552.0 162.5H553.5M553.5 161.5H555.0M554.5 158V163M553.0 161.5H554.5M554.5 159.5H556.0M556.5 155V161M555.0 159.5H556.5M556.5 156.5H558.0M557.5 153V159M556.0 156.5H557.5M557.5 155.5H559.0M559.5 153V157M558.0 155.5H559.5M559.5 153.5H561.0M561.5 151V157M560.0 153.5H561.5M561.5 152.5H563.0M562.5 152V157M561.0 152.5H562.5M562.5 154.5H564.0M564.5 153V157M563.0 154.5H564.5M564.5 153.5H566.0M565.5 148V157M564.0 153.5H565.5M565.5 150.5H567.0M567.5 146V153M566.0 150.5H567.5M567.5 147.5H569.0M569.5 146V152M568.0 147.5H569.5M569.5 148.5H571.0M570.5 148V154M569.0 148.5H570.5M570.5 151.5H572.0M572.5 149V154M571.0 151.5H572.5M572.5 150.5H574.0M573.5 146V153M572.0 150.5H573.5M573.5 147.5H575.0M575.5 145V150M574.0 147.5H575.5M575.5 146.5H577.0M577.5 144V153M576.0 146.5H577.5M577.5 150.5H579.0M578.5 149V153M577.0 150.5H578.5M578.5 150.5H580.0M580.5 148V160M579.0 150.5H580.5M580.5 156.5H582.0M581.5 153V163M580.0 156.5H581.5M581.5 159.5H583.0M583.5 157V163M582.0 159.5H583.5M583.5 159.5H585.0M584.5 153V164M583.0 159.5H584.5M584.5 155.5H586.0M586.5 153V159M585.0 155.5H586.5M586.5 155.5H588.0M588.5 152V167M587.0 155.5H588.5M588.5 162.5H590.0M589.5 160V167M588.0 162.5H589.5M589.5 163.5H591.0M591.5 160V167M590.0 163.5H591.5M591.5 162.5H593.0M592.5 159V176M591.0 162.5H592.5M592.5 170.5H594.0M594.5 171V200M593.0 170.5H594.5M594.5 186.5H596.0M596.5 183V211M595.0 186.5H596.5M596.5 193.5H598.0M597.5 190V196M596.0 193.5H597.5M597.5 192.5H599.0M599.5 189V204M598.0 192.5H599.5M599.5 200.5H601.0M600.5 196V211M599.0 200.5H600.5M600.5 210.5H602.0M602.5 200V220M601.0 210.5H602.5M602.5 203.5H604.0M604.5 192V208M603.0 203.5H604.5M604.5 195.5H606.0M605.5 188V200M604.0 195.5H605.5M605.5 191.5H607.0M607.5 189V194M606.0 191.5H607.5M607.5 191.5H609.0M608.5 182V196M607.0 191.5H608.5M608.5 184.5H610.0M610.5 180V188M609.0 184.5H610.5M610.5 182.5H612.0M612.5 176V186M611.0 182.5H612.5M612.5 179.5H614.0M613.5 176V184M612.0 179.5H613.5M613.5 180.5H615.0M615.5 173V185M614.0 180.5H615.5M615.5 176.5H617.0M616.5 172V180M615.0 176.5H616.5M616.5 174.5H618.0M618.5 173V181M617.0 174.5H618.5M618.5 177.5H620.0M619.5 173V181M618.0 177.5H619.5M619.5 175.5H621.0M621.5 168V179M620.0 175.5H621.5M621.5 170.5H623.0M623.5 168V173M622.0 170.5H623.5M623.5 169.5H625.0M624.5 166V181M623.0 169.5H624.5M624.5 176.5H626.0M626.5 175V184M625.0 176.5H626.5M626.5 181.5H628.0M627.5 173V185M626.0 181.5H627.5M627.5 175.5H629.0M629.5 173V183M628.0 175.5H629.5M629.5 179.5H631.0M631.5 170V184M630.0 179.5H631.5M631.5 172.5H633.0M632.5 167V176M631.0 172.5H632.5M632.5 169.5H634.0M634.5 168V172M633.0 169.5H634.5M634.5 169.5H636.0M635.5 162V173M634.0 169.5H635.5M635.5 164.5H637.0M637.5 160V167M636.0 164.5H637.5M637.5 162.5H639.0M639.5 158V166M638.0 162.5H639.5M639.5 159.5H641.0M640.5 158V163M639.0 159.5H640.5M640.5 159.5H642.0M642.5 156V162M641.0 159.5H642.5M642.5 157.5H644.0M643.5 157V161M642.0 157.5H643.5M643.5 158.5H645.0M645.5 156V163M644.0 158.5H645.5M645.5 160.5H647.0M647.5 158V165M646.0 160.5H647.5M647.5 161.5H649.0M648.5 161V177M647.0 161.5H648.5M648.5 166.5H650.0M650.5 166V176M649.0 166.5H650.5M650.5 173.5H652.0M651.5 167V179M650.0 173.5H651.5M651.5 166.5H653.0" fill="none" stroke="#000" stroke-width="1"/>
<rect x="96.0" y="462" width="3" height="1" fill="#a4a4b0"/><rect x="98.0" y="462" width="3" height="1" fill="#a4a4b0"/><rect x="100.0" y="462" width="3" height="1" fill="#a4a4b0"/><rect x="101.0" y="461" width="3" height="2" fill="#a4a4b0"/><rect x="103.0" y="461" width="3" height="2" fill="#a4a4b0"/><rect x="104.0" y="461" width="3" height="2" fill="#a4a4b0"/><rect x="106.0" y="461" width="3" height="2" fill="#a4a4b0"/><rect x="108.0" y="461" width="3" height="2" fill="#a4a4b0"/><rect x="109.0" y="461" width="3" height="2" fill="#a4a4b0"/><rect x="111.0" y="461" width="3" height="2" fill="#a4a4b0"/><rect x="112.0" y="461" width="3" height="2" fill="#a4a4b0"/><rect x="114.0" y="462" width="3" height="1" fill="#a4a4b0"/><rect x="116.0" y="462" width="3" height="1" fill="#a4a4b0"/><rect x="117.0" y="462" width="3" height="1" fill="#a4a4b0"/><rect x="119.0" y="462" width="3" height="1" fill="#a4a4b0"/><rect x="120.0" y="462" width="3" height="1" fill="#a4a4b0"/><rect x="122.0" y="463" width="3" height="1" fill="#a4a4b0"/><rect x="123.0" y="463" width="3" height="1" fill="#a4a4b0"/><rect x="125.0" y="463" width="3" height="1" fill="#a4a4b0"/><rect x="127.0" y="463" width="3" height="1" fill="#a4a4b0"/><rect x="128.0" y="463" width="3" height="1" fill="#a4a4b0"/><rect x="130.0" y="463" width="3" height="1" fill="#a4a4b0"/><rect x="131.0" y="463" width="3" height="1" fill="#a4a4b0"/><rect x="133.0" y="463" width="3" height="1" fill="#a4a4b0"/><rect x="135.0" y="463" width="3" height="1" fill="#a4a4b0"/><rect x="136.0" y="463" width="3" height="1" fill="#a4a4b0"/><rect x="138.0" y="463" width="3" height="1" fill="#a4a4b0"/><rect x="139.0" y="462" width="3" height="1" fill="#a4a4b0"/><rect x="141.0" y="462" width="3" height="1" fill="#a4a4b0"/><rect x="143.0" y="462" width="3" height="1" fill="#a4a4b0"/><rect x="144.0" y="462" width="3" height="1" fill="#a4a4b0"/><rect x="146.0" y="462" width="3" height="1" fill="#a4a4b0"/><rect x="147.0" y="462" width="3" height="1" fill="#a4a4b0"/><rect x="149.0" y="462" width="3" height="1" fill="#a4a4b0"/><rect x="151.0" y="462" width="3" height="1" fill="#a4a4b0"/><rect x="152.0" y="462" width="3" height="1" fill="#a4a4b0"/><rect x="154.0" y="462" width="3" height="1" fill="#a4a4b0"/><rect x="155.0" y="462" width="3" height="1" fill="#a4a4b0"/><rect x="157.0" y="462" width="3" height="1" fill="#a4a4b0"/><rect x="159.0" y="462" width="3" height="1" fill="#a4a4b0"/><rect x="160.0" y="462" width="3" height="1" fill="#a4a4b0"/><rect x="162.0" y="461" width="3" height="2" fill="#a4a4b0"/><rect x="163.0" y="461" width="3" height="2" fill="#a4a4b0"/><rect x="165.0" y="461" width="3" height="2" fill="#a4a4b0"/><rect x="166.0" y="461" width="3" height="2" fill="#a4a4b0"/><rect x="168.0" y="461" width="3" height="2" fill="#a4a4b0"/><rect x="170.0" y="461" width="3" height="2" fill="#a4a4b0"/><rect x="171.0" y="462" width="3" height="1" fill="#a4a4b0"/><rect x="173.0" y="462" width="3" height="1" fill="#a4a4b0"/><rect x="174.0" y="462" width="3" height="1" fill="#a4a4b0"/><rect x="176.0" y="462" width="3" height="1" fill="#a4a4b0"/><rect x="178.0" y="462" width="3" height="1" fill="#a4a4b0"/><rect x="179.0" y="462" width="3" height="1" fill="#a4a4b0"/><rect x="181.0" y="461" width="3" height="2" fill="#a4a4b0"/><rect x="182.0" y="461" width="3" height="2" fill="#a4a4b0"/><rect x="184.0" y="462" width="3" height="1" fill="#a4a4b0"/><rect x="186.0" y="461" width="3" height="2" fill="#a4a4b0"/><rect x="187.0" y="461" width="3" height="2" fill="#a4a4b0"/><rect x="189.0" y="461" width="3" height="2" fill="#a4a4b0"/><rect x="190.0" y="461" width="3" height="2" fill="#a4a4b0"/><rect x="192.0" y="463" width="3" height="1" fill="#a4a4b0"/><rect x="194.0" y="463" width="3" height="1" fill="#a4a4b0"/><rect x="195.0" y="463" width="3" height="2" fill="#a4a4b0"/><rect x="197.0" y="463" width="3" height="2" fill="#a4a4b0"/><rect x="198.0" y="463" width="3" height="2" fill="#a4a4b0"/><rect x="200.0" y="463" width="3" height="2" fill="#a4a4b0"/><rect x="201.0" y="463" width="3" height="2" fill="#a4a4b0"/><rect x="203.0" y="463" width="3" height="1" fill="#a4a4b0"/><rect x="205.0" y="463" width="3" height="1" fill="#a4a4b0"/><rect x="206.0" y="463" width="3" height="1" fill="#a4a4b0"/><rect x="208.0" y="463" width="3" height="1" fill="#a4a4b0"/><rect x="209.0" y="463" width="3" height="1" fill="#a4a4b0"/><rect x="211.0" y="463" width="3" height="1" fill="#a4a4b0"/><rect x="213.0" y="463" width="3" height="1" fill="#a4a4b0"/><rect x="214.0" y="463" width="3" height="1" fill="#a4a4b0"/><rect x="216.0" y="463" width="3" height="1" fill="#a4a4b0"/><rect x="217.0" y="462" width="3" height="1" fill="#a4a4b0"/><rect x="219.0" y="462" width="3" height="1" fill="#a4a4b0"/><rect x="221.0" y="462" width="3" height="1" fill="#a4a4b0"/><rect x="222.0" y="462" width="3" height="1" fill="#a4a4b0"/><rect x="224.0" y="461" width="3" height="2" fill="#a4a4b0"/><rect x="225.0" y="461" width="3" height="2" fill="#a4a4b0"/><rect x="227.0" y="461" width="3" height="2" fill="#a4a4b0"/><rect x="229.0" y="461" width="3" height="2" fill="#a4a4b0"/><rect x="230.0" y="461" width="3" height="2" fill="#a4a4b0"/><rect x="232.0" y="461" width="3" height="2" fill="#a4a4b0"/><rect x="233.0" y="461" width="3" height="2" fill="#a4a4b0"/><rect x="235.0" y="462" width="3" height="1" fill="#a4a4b0"/><rect x="236.0" y="462" width="3" height="1" fill="#a4a4b0"/><rect x="238.0" y="463" width="3" height="1" fill="#a4a4b0"/><rect x="240.0" y="463" width="3" height="1" fill="#a4a4b0"/><rect x="241.0" y="463" width="3" height="1" fill="#a4a4b0"/><rect x="243.0" y="462" width="3" height="1" fill="#a4a4b0"/><rect x="244.0" y="462" width="3" height="1" fill="#a4a4b0"/><rect x="246.0" y="463" width="3" height="1" fill="#a4a4b0"/><rect x="248.0" y="463" width="3" height="1" fill="#a4a4b0"/><rect x="249.0" y="463" width="3" height="1" fill="#a4a4b0"/><rect x="251.0" y="463" width="3" height="1" fill="#a4a4b0"/><rect x="252.0" y="463" width="3" height="1" fill="#a4a4b0"/><rect x="254.0" y="463" width="3" height="1" fill="#a4a4b0"/><rect x="256.0" y="463" width="3" height="1" fill="#a4a4b0"/><rect x="257.0" y="462" width="3" height="1" fill="#a4a4b0"/><rect x="259.0" y="462" width="3" height="1" fill="#a4a4b0"/><rect x="260.0" y="461" width="3" height="2" fill="#a4a4b0"/><rect x="262.0" y="462" width="3" height="1" fill="#a4a4b0"/><rect x="264.0" y="462" width="3" height="1" fill="#a4a4b0"/><rect x="265.0" y="461" width="3" height="2" fill="#a4a4b0"/><rect x="267.0" y="462" width="3" height="1" fill="#a4a4b0"/><rect x="268.0" y="462" width="3" height="1" fill="#a4a4b0"/><rect x="270.0" y="462" width="3" height="1" fill="#a4a4b0"/><rect x="272.0" y="462" width="3" height="1" fill="#a4a4b0"/><rect x="273.0" y="462" width="3" height="1" fill="#a4a4b0"/><rect x="275.0" y="462" width="3" height="1" fill="#a4a4b0"/><rect x="276.0" y="462" width="3" height="1" fill="#a4a4b0"/><rect x="278.0" y="462" width="3" height="1" fill="#a4a4b0"/><rect x="279.0" y="462" width="3" height="1" fill="#a4a4b0"/><rect x="281.0" y="462" width="3" height="1" fill="#a4a4b0"/><rect x="283.0" y="462" width="3" height="1" fill="#a4a4b0"/><rect x="284.0" y="463" width="3" height="1" fill="#a4a4b0"/><rect x="286.0" y="463" width="3" height="1" fill="#a4a4b0"/><rect x="287.0" y="463" width="3" height="1" fill="#a4a4b0"/><rect x="289.0" y="463" width="3" height="1" fill="#a4a4b0"/><rect x="291.0" y="463" width="3" height="1" fill="#a4a4b0"/><rect x="292.0" y="462" width="3" height="1" fill="#a4a4b0"/><rect x="294.0" y="462" width="3" height="1" fill="#a4a4b0"/><rect x="295.0" y="462" width="3" height="1" fill="#a4a4b0"/><rect x="297.0" y="462" width="3" height="1" fill="#a4a4b0"/><rect x="299.0" y="462" width="3" height="1" fill="#a4a4b0"/><rect x="300.0" y="462" width="3" height="1" fill="#a4a4b0"/><rect x="302.0" y="463" width="3" height="1" fill="#a4a4b0"/><rect x="303.0" y="462" width="3" height="1" fill="#a4a4b0"/><rect x="305.0" y="462" width="3" height="1" fill="#a4a4b0"/><rect x="307.0" y="462" width="3" height="1" fill="#a4a4b0"/><rect x="308.0" y="463" width="3" height="1" fill="#a4a4b0"/><rect x="310.0" y="463" width="3" height="1" fill="#a4a4b0"/><rect x="311.0" y="462" width="3" height="1" fill="#a4a4b0"/><rect x="313.0" y="463" width="3" height="1" fill="#a4a4b0"/><rect x="314.0" y="463" width="3" height="1" fill="#a4a4b0"/><rect x="316.0" y="463" width="3" height="1" fill="#a4a4b0"/><rect x="318.0" y="463" width="3" height="1" fill="#a4a4b0"/><rect x="319.0" y="463" width="3" height="1" fill="#a4a4b0"/><rect x="321.0" y="463" width="3" height="1" fill="#a4a4b0"/><rect x="322.0" y="463" width="3" height="1" fill="#a4a4b0"/><rect x="324.0" y="463" width="3" height="1" fill="#a4a4b0"/><rect x="326.0" y="463" width="3" height="1" fill="#a4a4b0"/><rect x="327.0" y="463" width="3" height="1" fill="#a4a4b0"/><rect x="329.0" y="463" width="3" height="1" fill="#a4a4b0"/><rect x="330.0" y="463" width="3" height="1" fill="#a4a4b0"/><rect x="332.0" y="463" width="3" height="1" fill="#a4a4b0"/><rect x="334.0" y="462" width="3" height="1" fill="#a4a4b0"/><rect x="335.0" y="462" width="3" height="1" fill="#a4a4b0"/><rect x="337.0" y="461" width="3" height="2" fill="#a4a4b0"/><rect x="338.0" y="461" width="3" height="2" fill="#a4a4b0"/><rect x="340.0" y="460" width="3" height="3" fill="#8c8c8c"/><rect x="342.0" y="460" width="3" height="3" fill="#8c8c8c"/><rect x="343.0" y="460" width="3" height="3" fill="#8c8c8c"/><rect x="345.0" y="460" width="3" height="3" fill="#8c8c8c"/><rect x="346.0" y="460" width="3" height="3" fill="#8c8c8c"/><rect x="348.0" y="459" width="3" height="4" fill="#8c8c8c"/><rect x="350.0" y="459" width="3" height="4" fill="#8c8c8c"/><rect x="351.0" y="459" width="3" height="4" fill="#8c8c8c"/><rect x="353.0" y="459" width="3" height="4" fill="#8c8c8c"/><rect x="354.0" y="460" width="3" height="3" fill="#8c8c8c"/><rect x="356.0" y="460" width="3" height="3" fill="#8c8c8c"/><rect x="357.0" y="460" width="3" height="3" fill="#8c8c8c"/><rect x="359.0" y="461" width="3" height="2" fill="#a4a4b0"/><rect x="361.0" y="462" width="3" height="1" fill="#a4a4b0"/><rect x="362.0" y="462" width="3" height="1" fill="#a4a4b0"/><rect x="364.0" y="461" width="3" height="2" fill="#a4a4b0"/><rect x="365.0" y="460" width="3" height="3" fill="#8c8c8c"/><rect x="367.0" y="460" width="3" height="3" fill="#8c8c8c"/><rect x="369.0" y="460" width="3" height="3" fill="#8c8c8c"/><rect x="370.0" y="460" width="3" height="3" fill="#8c8c8c"/><rect x="372.0" y="460" width="3" height="3" fill="#8c8c8c"/><rect x="373.0" y="460" width="3" height="3" fill="#8c8c8c"/><rect x="375.0" y="460" width="3" height="3" fill="#8c8c8c"/><rect x="377.0" y="459" width="3" height="4" fill="#8c8c8c"/><rect x="378.0" y="457" width="3" height="6" fill="#8c8c8c"/><rect x="380.0" y="458" width="3" height="5" fill="#8c8c8c"/><rect x="381.0" y="458" width="3" height="5" fill="#8c8c8c"/><rect x="383.0" y="459" width="3" height="4" fill="#8c8c8c"/><rect x="385.0" y="459" width="3" height="4" fill="#8c8c8c"/><rect x="386.0" y="459" width="3" height="4" fill="#8c8c8c"/><rect x="388.0" y="460" width="3" height="3" fill="#8c8c8c"/><rect x="389.0" y="459" width="3" height="4" fill="#8c8c8c"/><rect x="391.0" y="458" width="3" height="5" fill="#8c8c8c"/><rect x="392.0" y="458" width="3" height="5" fill="#8c8c8c"/><rect x="394.0" y="459" width="3" height="4" fill="#8c8c8c"/><rect x="396.0" y="459" width="3" height="4" fill="#8c8c8c"/><rect x="397.0" y="459" width="3" height="4" fill="#8c8c8c"/><rect x="399.0" y="463" width="3" height="1" fill="#a4a4b0"/><rect x="400.0" y="463" width="3" height="2" fill="#a4a4b0"/><rect x="402.0" y="463" width="3" height="2" fill="#a4a4b0"/><rect x="404.0" y="463" width="3" height="1" fill="#a4a4b0"/><rect x="405.0" y="462" width="3" height="1" fill="#a4a4b0"/><rect x="407.0" y="460" width="3" height="3" fill="#8c8c8c"/><rect x="408.0" y="460" width="3" height="3" fill="#8c8c8c"/><rect x="410.0" y="459" width="3" height="4" fill="#8c8c8c"/><rect x="412.0" y="459" width="3" height="4" fill="#8c8c8c"/><rect x="413.0" y="459" width="3" height="4" fill="#8c8c8c"/><rect x="415.0" y="459" width="3" height="4" fill="#8c8c8c"/><rect x="416.0" y="460" width="3" height="3" fill="#8c8c8c"/><rect x="418.0" y="461" width="3" height="2" fill="#a4a4b0"/><rect x="420.0" y="463" width="3" height="1" fill="#a4a4b0"/><rect x="421.0" y="463" width="3" height="1" fill="#a4a4b0"/><rect x="423.0" y="463" width="3" height="1" fill="#a4a4b0"/><rect x="424.0" y="462" width="3" height="1" fill="#a4a4b0"/><rect x="426.0" y="463" width="3" height="1" fill="#a4a4b0"/><rect x="427.0" y="463" width="3" height="1" fill="#a4a4b0"/><rect x="429.0" y="463" width="3" height="1" fill="#a4a4b0"/><rect x="431.0" y="463" width="3" height="1" fill="#a4a4b0"/><rect x="432.0" y="463" width="3" height="1" fill="#a4a4b0"/><rect x="434.0" y="463" width="3" height="1" fill="#a4a4b0"/><rect x="435.0" y="463" width="3" height="2" fill="#a4a4b0"/><rect x="437.0" y="463" width="3" height="1" fill="#a4a4b0"/><rect x="439.0" y="463" width="3" height="2" fill="#a4a4b0"/><rect x="440.0" y="463" width="3" height="3" fill="#8c8c8c"/><rect x="442.0" y="463" width="3" height="6" fill="#8c8c8c"/><rect x="443.0" y="463" width="3" height="8" fill="#8c8c8c"/><rect x="445.0" y="463" width="3" height="8" fill="#8c8c8c"/><rect x="447.0" y="463" width="3" height="10" fill="#8c8c8c"/><rect x="448.0" y="463" width="3" height="13" fill="#8c8c8c"/><rect x="450.0" y="463" width="3" height="12" fill="#8c8c8c"/><rect x="451.0" y="463" width="3" height="11" fill="#8c8c8c"/><rect x="453.0" y="463" width="3" height="10" fill="#8c8c8c"/><rect x="455.0" y="463" width="3" height="10" fill="#8c8c8c"/><rect x="456.0" y="463" width="3" height="11" fill="#8c8c8c"/><rect x="458.0" y="463" width="3" height="12" fill="#8c8c8c"/><rect x="459.0" y="463" width="3" height="12" fill="#8c8c8c"/><rect x="461.0" y="463" width="3" height="10" fill="#8c8c8c"/><rect x="463.0" y="463" width="3" height="8" fill="#8c8c8c"/><rect x="464.0" y="463" width="3" height="7" fill="#8c8c8c"/><rect x="466.0" y="463" width="3" height="6" fill="#8c8c8c"/><rect x="467.0" y="463" width="3" height="4" fill="#8c8c8c"/><rect x="469.0" y="463" width="3" height="4" fill="#8c8c8c"/><rect x="470.0" y="463" width="3" height="4" fill="#8c8c8c"/><rect x="472.0" y="463" width="3" height="5" fill="#8c8c8c"/><rect x="474.0" y="463" width="3" height="6" fill="#8c8c8c"/><rect x="475.0" y="463" width="3" height="7" fill="#8c8c8c"/><rect x="477.0" y="463" width="3" height="9" fill="#8c8c8c"/><rect x="478.0" y="463" width="3" height="8" fill="#8c8c8c"/><rect x="480.0" y="463" width="3" height="6" fill="#8c8c8c"/><rect x="482.0" y="463" width="3" height="5" fill="#8c8c8c"/><rect x="483.0" y="463" width="3" height="4" fill="#8c8c8c"/><rect x="485.0" y="463" width="3" height="4" fill="#8c8c8c"/><rect x="486.0" y="463" width="3" height="3" fill="#8c8c8c"/><rect x="488.0" y="463" width="3" height="1" fill="#a4a4b0"/><rect x="490.0" y="461" width="3" height="2" fill="#a4a4b0"/><rect x="491.0" y="459" width="3" height="4" fill="#8c8c8c"/><rect x="493.0" y="457" width="3" height="6" fill="#8c8c8c"/><rect x="494.0" y="456" width="3" height="7" fill="#8c8c8c"/><rect x="496.0" y="455" width="3" height="8" fill="#8c8c8c"/><rect x="498.0" y="454" width="3" height="9" fill="#8c8c8c"/><rect x="499.0" y="454" width="3" height="9" fill="#8c8c8c"/><rect x="501.0" y="453" width="3" height="10" fill="#8c8c8c"/><rect x="502.0" y="452" width="3" height="11" fill="#8c8c8c"/><rect x="504.0" y="452" width="3" height="11" fill="#8c8c8c"/><rect x="505.0" y="452" width="3" height="11" fill="#8c8c8c"/><rect x="507.0" y="454" width="3" height="9" fill="#8c8c8c"/><rect x="509.0" y="455" width="3" height="8" fill="#8c8c8c"/><rect x="510.0" y="455" width="3" height="8" fill="#8c8c8c"/><rect x="512.0" y="457" width="3" height="6" fill="#8c8c8c"/><rect x="513.0" y="458" width="3" height="5" fill="#8c8c8c"/><rect x="515.0" y="459" width="3" height="4" fill="#8c8c8c"/><rect x="517.0" y="459" width="3" height="4" fill="#8c8c8c"/><rect x="518.0" y="459" width="3" height="4" fill="#8c8c8c"/><rect x="520.0" y="458" width="3" height="5" fill="#8c8c8c"/><rect x="521.0" y="459" width="3" height="4" fill="#8c8c8c"/><rect x="523.0" y="459" width="3" height="4" fill="#8c8c8c"/><rect x="525.0" y="459" width="3" height="4" fill="#8c8c8c"/><rect x="526.0" y="461" width="3" height="2" fill="#a4a4b0"/><rect x="528.0" y="461" width="3" height="2" fill="#a4a4b0"/><rect x="529.0" y="461" width="3" height="2" fill="#a4a4b0"/><rect x="531.0" y="461" width="3" height="2" fill="#a4a4b0"/><rect x="533.0" y="461" width="3" height="2" fill="#a4a4b0"/><rect x="534.0" y="461" width="3" height="2" fill="#a4a4b0"/><rect x="536.0" y="462" width="3" height="1" fill="#a4a4b0"/><rect x="537.0" y="461" width="3" height="2" fill="#a4a4b0"/><rect x="539.0" y="461" width="3" height="2" fill="#a4a4b0"/><rect x="541.0" y="461" width="3" height="2" fill="#a4a4b0"/><rect x="542.0" y="461" width="3" height="2" fill="#a4a4b0"/><rect x="544.0" y="461" width="3" height="2" fill="#a4a4b0"/><rect x="545.0" y="461" width="3" height="2" fill="#a4a4b0"/><rect x="547.0" y="462" width="3" height="1" fill="#a4a4b0"/><rect x="548.0" y="462" width="3" height="1" fill="#a4a4b0"/><rect x="550.0" y="463" width="3" height="1" fill="#a4a4b0"/><rect x="552.0" y="463" width="3" height="1" fill="#a4a4b0"/><rect x="553.0" y="462" width="3" height="1" fill="#a4a4b0"/><rect x="555.0" y="461" width="3" height="2" fill="#a4a4b0"/><rect x="556.0" y="460" width="3" height="3" fill="#8c8c8c"/><rect x="558.0" y="460" width="3" height="3" fill="#8c8c8c"/><rect x="560.0" y="459" width="3" height="4" fill="#8c8c8c"/><rect x="561.0" y="460" width="3" height="3" fill="#8c8c8c"/><rect x="563.0" y="460" width="3" height="3" fill="#8c8c8c"/><rect x="564.0" y="460" width="3" height="3" fill="#8c8c8c"/><rect x="566.0" y="459" width="3" height="4" fill="#8c8c8c"/><rect x="568.0" y="459" width="3" height="4" fill="#8c8c8c"/><rect x="569.0" y="460" width="3" height="3" fill="#8c8c8c"/><rect x="571.0" y="461" width="3" height="2" fill="#a4a4b0"/><rect x="572.0" y="461" width="3" height="2" fill="#a4a4b0"/><rect x="574.0" y="461" width="3" height="2" fill="#a4a4b0"/><rect x="576.0" y="462" width="3" height="1" fill="#a4a4b0"/><rect x="577.0" y="463" width="3" height="1" fill="#a4a4b0"/><rect x="579.0" y="463" width="3" height="3" fill="#8c8c8c"/><rect x="580.0" y="463" width="3" height="6" fill="#8c8c8c"/><rect x="582.0" y="463" width="3" height="7" fill="#8c8c8c"/><rect x="583.0" y="463" width="3" height="7" fill="#8c8c8c"/><rect x="585.0" y="463" width="3" height="6" fill="#8c8c8c"/><rect x="587.0" y="463" width="3" height="8" fill="#8c8c8c"/><rect x="588.0" y="463" width="3" height="9" fill="#8c8c8c"/><rect x="590.0" y="463" width="3" height="8" fill="#8c8c8c"/><rect x="591.0" y="463" width="3" height="10" fill="#8c8c8c"/><rect x="593.0" y="463" width="3" height="15" fill="#8c8c8c"/><rect x="595.0" y="463" width="3" height="18" fill="#8c8c8c"/><rect x="596.0" y="463" width="3" height="19" fill="#8c8c8c"/><rect x="598.0" y="463" width="3" height="20" fill="#8c8c8c"/><rect x="599.0" y="463" width="3" height="21" fill="#8c8c8c"/><rect x="601.0" y="463" width="3" height="19" fill="#8c8c8c"/><rect x="603.0" y="463" width="3" height="15" fill="#8c8c8c"/><rect x="604.0" y="463" width="3" height="11" fill="#8c8c8c"/><rect x="606.0" y="463" width="3" height="7" fill="#8c8c8c"/><rect x="607.0" y="463" width="3" height="3" fill="#8c8c8c"/><rect x="609.0" y="462" width="3" height="1" fill="#a4a4b0"/><rect x="611.0" y="459" width="3" height="4" fill="#8c8c8c"/><rect x="612.0" y="457" width="3" height="6" fill="#8c8c8c"/><rect x="614.0" y="455" width="3" height="8" fill="#8c8c8c"/><rect x="615.0" y="453" width="3" height="10" fill="#8c8c8c"/><rect x="617.0" y="453" width="3" height="10" fill="#8c8c8c"/><rect x="618.0" y="453" width="3" height="10" fill="#8c8c8c"/><rect x="620.0" y="452" width="3" height="11" fill="#8c8c8c"/><rect x="622.0" y="451" width="3" height="12" fill="#8c8c8c"/><rect x="623.0" y="453" width="3" height="10" fill="#8c8c8c"/><rect x="625.0" y="456" width="3" height="7" fill="#8c8c8c"/><rect x="626.0" y="456" width="3" height="7" fill="#8c8c8c"/><rect x="628.0" y="458" width="3" height="5" fill="#8c8c8c"/><rect x="630.0" y="457" width="3" height="6" fill="#8c8c8c"/><rect x="631.0" y="456" width="3" height="7" fill="#8c8c8c"/><rect x="633.0" y="456" width="3" height="7" fill="#8c8c8c"/><rect x="634.0" y="455" width="3" height="8" fill="#8c8c8c"/><rect x="636.0" y="454" width="3" height="9" fill="#8c8c8c"/><rect x="638.0" y="453" width="3" height="10" fill="#8c8c8c"/><rect x="639.0" y="453" width="3" height="10" fill="#8c8c8c"/><rect x="641.0" y="452" width="3" height="11" fill="#8c8c8c"/><rect x="642.0" y="453" width="3" height="10" fill="#8c8c8c"/><rect x="644.0" y="455" width="3" height="8" fill="#8c8c8c"/><rect x="646.0" y="457" width="3" height="6" fill="#8c8c8c"/><rect x="647.0" y="460" width="3" height="3" fill="#8c8c8c"/><rect x="649.0" y="463" width="3" height="1" fill="#a4a4b0"/><rect x="650.0" y="463" width="3" height="1" fill="#a4a4b0"/><rect x="341.0" y="461" width="1" height="2" fill="#a2a2a8"/><rect x="343.0" y="461" width="1" height="2" fill="#a2a2a8"/><rect x="344.0" y="461" width="1" height="2" fill="#a2a2a8"/><rect x="346.0" y="461" width="1" height="2" fill="#a2a2a8"/><rect x="347.0" y="461" width="1" height="2" fill="#a2a2a8"/><rect x="349.0" y="460" width="1" height="3" fill="#a2a2a8"/><rect x="351.0" y="460" width="1" height="3" fill="#a2a2a8"/><rect x="352.0" y="460" width="1" height="3" fill="#a2a2a8"/><rect x="354.0" y="460" width="1" height="3" fill="#a2a2a8"/><rect x="355.0" y="461" width="1" height="2" fill="#a2a2a8"/><rect x="357.0" y="461" width="1" height="2" fill="#a2a2a8"/><rect x="358.0" y="461" width="1" height="2" fill="#a2a2a8"/><rect x="366.0" y="461" width="1" height="2" fill="#a2a2a8"/><rect x="368.0" y="461" width="1" height="2" fill="#a2a2a8"/><rect x="370.0" y="461" width="1" height="2" fill="#a2a2a8"/><rect x="371.0" y="461" width="1" height="2" fill="#a2a2a8"/><rect x="373.0" y="461" width="1" height="2" fill="#a2a2a8"/><rect x="374.0" y="461" width="1" height="2" fill="#a2a2a8"/><rect x="376.0" y="461" width="1" height="2" fill="#a2a2a8"/><rect x="378.0" y="460" width="1" height="3" fill="#a2a2a8"/><rect x="379.0" y="458" width="1" height="5" fill="#a2a2a8"/><rect x="381.0" y="459" width="1" height="4" fill="#a2a2a8"/><rect x="382.0" y="459" width="1" height="4" fill="#a2a2a8"/><rect x="384.0" y="460" width="1" height="3" fill="#a2a2a8"/><rect x="386.0" y="460" width="1" height="3" fill="#a2a2a8"/><rect x="387.0" y="460" width="1" height="3" fill="#a2a2a8"/><rect x="389.0" y="461" width="1" height="2" fill="#a2a2a8"/><rect x="390.0" y="460" width="1" height="3" fill="#a2a2a8"/><rect x="392.0" y="459" width="1" height="4" fill="#a2a2a8"/><rect x="393.0" y="459" width="1" height="4" fill="#a2a2a8"/><rect x="395.0" y="460" width="1" height="3" fill="#a2a2a8"/><rect x="397.0" y="460" width="1" height="3" fill="#a2a2a8"/><rect x="398.0" y="460" width="1" height="3" fill="#a2a2a8"/><rect x="408.0" y="461" width="1" height="2" fill="#a2a2a8"/><rect x="409.0" y="461" width="1" height="2" fill="#a2a2a8"/><rect x="411.0" y="460" width="1" height="3" fill="#a2a2a8"/><rect x="413.0" y="460" width="1" height="3" fill="#a2a2a8"/><rect x="414.0" y="460" width="1" height="3" fill="#a2a2a8"/><rect x="416.0" y="460" width="1" height="3" fill="#a2a2a8"/><rect x="417.0" y="461" width="1" height="2" fill="#a2a2a8"/><rect x="441.0" y="463" width="1" height="2" fill="#a0a0cc"/><rect x="443.0" y="463" width="1" height="5" fill="#a0a0cc"/><rect x="444.0" y="463" width="1" height="7" fill="#a0a0cc"/><rect x="446.0" y="463" width="1" height="7" fill="#a0a0cc"/><rect x="448.0" y="463" width="1" height="9" fill="#a0a0cc"/><rect x="449.0" y="463" width="1" height="12" fill="#a0a0cc"/><rect x="451.0" y="463" width="1" height="11" fill="#a0a0cc"/><rect x="452.0" y="463" width="1" height="10" fill="#a0a0cc"/><rect x="454.0" y="463" width="1" height="9" fill="#a0a0cc"/><rect x="456.0" y="463" width="1" height="9" fill="#a0a0cc"/><rect x="457.0" y="463" width="1" height="10" fill="#a0a0cc"/><rect x="459.0" y="463" width="1" height="11" fill="#a0a0cc"/><rect x="460.0" y="463" width="1" height="11" fill="#a0a0cc"/><rect x="462.0" y="463" width="1" height="9" fill="#a0a0cc"/><rect x="464.0" y="463" width="1" height="7" fill="#a0a0cc"/><rect x="465.0" y="463" width="1" height="6" fill="#a0a0cc"/><rect x="467.0" y="463" width="1" height="5" fill="#a0a0cc"/><rect x="468.0" y="463" width="1" height="3" fill="#a0a0cc"/><rect x="470.0" y="463" width="1" height="3" fill="#a0a0cc"/><rect x="471.0" y="463" width="1" height="3" fill="#a0a0cc"/><rect x="473.0" y="463" width="1" height="4" fill="#a0a0cc"/><rect x="475.0" y="463" width="1" height="5" fill="#a0a0cc"/><rect x="476.0" y="463" width="1" height="6" fill="#a0a0cc"/><rect x="478.0" y="463" width="1" height="8" fill="#a0a0cc"/><rect x="479.0" y="463" width="1" height="7" fill="#a0a0cc"/><rect x="481.0" y="463" width="1" height="5" fill="#a0a0cc"/><rect x="483.0" y="463" width="1" height="4" fill="#a0a0cc"/><rect x="484.0" y="463" width="1" height="3" fill="#a0a0cc"/><rect x="486.0" y="463" width="1" height="3" fill="#a0a0cc"/><rect x="487.0" y="463" width="1" height="2" fill="#a0a0cc"/><rect x="492.0" y="460" width="1" height="3" fill="#a2a2a8"/><rect x="494.0" y="458" width="1" height="5" fill="#a2a2a8"/><rect x="495.0" y="457" width="1" height="6" fill="#a2a2a8"/><rect x="497.0" y="456" width="1" height="7" fill="#a2a2a8"/><rect x="499.0" y="455" width="1" height="8" fill="#a2a2a8"/><rect x="500.0" y="455" width="1" height="8" fill="#a2a2a8"/><rect x="502.0" y="454" width="1" height="9" fill="#a2a2a8"/><rect x="503.0" y="453" width="1" height="10" fill="#a2a2a8"/><rect x="505.0" y="453" width="1" height="10" fill="#a2a2a8"/><rect x="506.0" y="453" width="1" height="10" fill="#a2a2a8"/><rect x="508.0" y="455" width="1" height="8" fill="#a2a2a8"/><rect x="510.0" y="456" width="1" height="7" fill="#a2a2a8"/><rect x="511.0" y="456" width="1" height="7" fill="#a2a2a8"/><rect x="513.0" y="458" width="1" height="5" fill="#a2a2a8"/><rect x="514.0" y="459" width="1" height="4" fill="#a2a2a8"/><rect x="516.0" y="460" width="1" height="3" fill="#a2a2a8"/><rect x="518.0" y="460" width="1" height="3" fill="#a2a2a8"/><rect x="519.0" y="460" width="1" height="3" fill="#a2a2a8"/><rect x="521.0" y="459" width="1" height="4" fill="#a2a2a8"/><rect x="522.0" y="460" width="1" height="3" fill="#a2a2a8"/><rect x="524.0" y="460" width="1" height="3" fill="#a2a2a8"/><rect x="526.0" y="460" width="1" height="3" fill="#a2a2a8"/><rect x="557.0" y="461" width="1" height="2" fill="#a2a2a8"/><rect x="559.0" y="461" width="1" height="2" fill="#a2a2a8"/><rect x="561.0" y="460" width="1" height="3" fill="#a2a2a8"/><rect x="562.0" y="461" width="1" height="2" fill="#a2a2a8"/><rect x="564.0" y="461" width="1" height="2" fill="#a2a2a8"/><rect x="565.0" y="461" width="1" height="2" fill="#a2a2a8"/><rect x="567.0" y="460" width="1" height="3" fill="#a2a2a8"/><rect x="569.0" y="460" width="1" height="3" fill="#a2a2a8"/><rect x="570.0" y="461" width="1" height="2" fill="#a2a2a8"/><rect x="580.0" y="463" width="1" height="2" fill="#a0a0cc"/><rect x="581.0" y="463" width="1" height="5" fill="#a0a0cc"/><rect x="583.0" y="463" width="1" height="6" fill="#a0a0cc"/><rect x="584.0" y="463" width="1" height="6" fill="#a0a0cc"/><rect x="586.0" y="463" width="1" height="5" fill="#a0a0cc"/><rect x="588.0" y="463" width="1" height="7" fill="#a0a0cc"/><rect x="589.0" y="463" width="1" height="8" fill="#a0a0cc"/><rect x="591.0" y="463" width="1" height="7" fill="#a0a0cc"/><rect x="592.0" y="463" width="1" height="9" fill="#a0a0cc"/><rect x="594.0" y="463" width="1" height="14" fill="#a0a0cc"/><rect x="596.0" y="463" width="1" height="17" fill="#a0a0cc"/><rect x="597.0" y="463" width="1" height="18" fill="#a0a0cc"/><rect x="599.0" y="463" width="1" height="19" fill="#a0a0cc"/><rect x="600.0" y="463" width="1" height="20" fill="#a0a0cc"/><rect x="602.0" y="463" width="1" height="18" fill="#a0a0cc"/><rect x="604.0" y="463" width="1" height="14" fill="#a0a0cc"/><rect x="605.0" y="463" width="1" height="10" fill="#a0a0cc"/><rect x="607.0" y="463" width="1" height="6" fill="#a0a0cc"/><rect x="608.0" y="463" width="1" height="2" fill="#a0a0cc"/><rect x="612.0" y="460" width="1" height="3" fill="#a2a2a8"/><rect x="613.0" y="458" width="1" height="5" fill="#a2a2a8"/><rect x="615.0" y="456" width="1" height="7" fill="#a2a2a8"/><rect x="616.0" y="454" width="1" height="9" fill="#a2a2a8"/><rect x="618.0" y="454" width="1" height="9" fill="#a2a2a8"/><rect x="619.0" y="454" width="1" height="9" fill="#a2a2a8"/><rect x="621.0" y="453" width="1" height="10" fill="#a2a2a8"/><rect x="623.0" y="452" width="1" height="11" fill="#a2a2a8"/><rect x="624.0" y="454" width="1" height="9" fill="#a2a2a8"/><rect x="626.0" y="457" width="1" height="6" fill="#a2a2a8"/><rect x="627.0" y="457" width="1" height="6" fill="#a2a2a8"/><rect x="629.0" y="459" width="1" height="4" fill="#a2a2a8"/><rect x="631.0" y="458" width="1" height="5" fill="#a2a2a8"/><rect x="632.0" y="457" width="1" height="6" fill="#a2a2a8"/><rect x="634.0" y="457" width="1" height="6" fill="#a2a2a8"/><rect x="635.0" y="456" width="1" height="7" fill="#a2a2a8"/><rect x="637.0" y="455" width="1" height="8" fill="#a2a2a8"/><rect x="639.0" y="454" width="1" height="9" fill="#a2a2a8"/><rect x="640.0" y="454" width="1" height="9" fill="#a2a2a8"/><rect x="642.0" y="453" width="1" height="10" fill="#a2a2a8"/><rect x="643.0" y="454" width="1" height="9" fill="#a2a2a8"/><rect x="645.0" y="456" width="1" height="7" fill="#a2a2a8"/><rect x="647.0" y="458" width="1" height="5" fill="#a2a2a8"/><rect x="648.0" y="461" width="1" height="2" fill="#a2a2a8"/>
<polyline points="97.5,463.12 99.5,462.96 101.5,462.74 102.5,462.48 104.5,462.2 105.5,461.89 107.5,461.53 109.5,461.16 110.5,460.8 112.5,460.47 113.5,460.19 115.5,459.95 117.5,459.76 118.5,459.6 120.5,459.5 121.5,459.44 123.5,459.45 124.5,459.5 126.5,459.57 128.5,459.71 129.5,459.88 131.5,460.07 132.5,460.2 134.5,460.29 136.5,460.35 137.5,460.41 139.5,460.46 140.5,460.44 142.5,460.37 144.5,460.29 145.5,460.21 147.5,460.1 148.5,459.96 150.5,459.83 152.5,459.72 153.5,459.68 155.5,459.64 156.5,459.56 158.5,459.42 160.5,459.25 161.5,459.01 163.5,458.69 164.5,458.36 166.5,458.0 167.5,457.62 169.5,457.34 171.5,457.07 172.5,456.93 174.5,456.83 175.5,456.75 177.5,456.74 179.5,456.63 180.5,456.42 182.5,456.15 183.5,455.89 185.5,455.64 187.5,455.37 188.5,455.05 190.5,454.67 191.5,454.34 193.5,454.4 195.5,454.82 196.5,455.39 198.5,455.99 199.5,456.54 201.5,457.09 202.5,457.61 204.5,458.09 206.5,458.47 207.5,458.79 209.5,459.12 210.5,459.38 212.5,459.58 214.5,459.74 215.5,459.87 217.5,459.88 218.5,459.86 220.5,459.8 222.5,459.66 223.5,459.42 225.5,459.16 226.5,458.77 228.5,458.31 230.5,457.84 231.5,457.44 233.5,457.1 234.5,456.78 236.5,456.63 237.5,456.59 239.5,456.6 241.5,456.69 242.5,456.69 244.5,456.68 245.5,456.67 247.5,456.84 249.5,457.2 250.5,457.69 252.5,458.16 253.5,458.56 255.5,458.84 257.5,458.93 258.5,458.86 260.5,458.71 261.5,458.45 263.5,458.24 265.5,457.99 266.5,457.72 268.5,457.49 269.5,457.28 271.5,457.19 273.5,457.0 274.5,456.81 276.5,456.62 277.5,456.49 279.5,456.37 280.5,456.28 282.5,456.26 284.5,456.21 285.5,456.22 287.5,456.26 288.5,456.33 290.5,456.36 292.5,456.37 293.5,456.35 295.5,456.32 296.5,456.25 298.5,456.23 300.5,456.21 301.5,456.2 303.5,456.23 304.5,456.22 306.5,456.22 308.5,456.2 309.5,456.22 311.5,456.24 312.5,456.21 314.5,456.23 315.5,456.4 317.5,456.65 319.5,456.91 320.5,457.24 322.5,457.55 323.5,457.75 325.5,457.94 327.5,458.09 328.5,458.3 330.5,458.52 331.5,458.68 333.5,458.74 335.5,458.67 336.5,458.47 338.5,458.11 339.5,457.63 341.5,457.03 343.5,456.4 344.5,455.69 346.5,454.99 347.5,454.25 349.5,453.48 351.5,452.66 352.5,451.85 354.5,451.1 355.5,450.4 357.5,449.73 358.5,449.14 360.5,448.8 362.5,448.61 363.5,448.39 365.5,448.11 366.5,447.59 368.5,447.06 370.5,446.37 371.5,445.63 373.5,445.1 374.5,444.56 376.5,443.85 378.5,442.95 379.5,441.68 381.5,440.57 382.5,439.43 384.5,438.54 386.5,437.71 387.5,436.96 389.5,436.29 390.5,435.46 392.5,434.37 393.5,433.19 395.5,432.19 397.5,431.22 398.5,430.45 400.5,430.69 401.5,431.35 403.5,431.91 405.5,432.15 406.5,431.93 408.5,431.26 409.5,430.61 411.5,429.86 413.5,428.92 414.5,428.15 416.5,427.26 417.5,426.64 419.5,426.34 421.5,426.52 422.5,426.69 424.5,426.8 425.5,426.57 427.5,426.58 428.5,426.95 430.5,426.97 432.5,427.09 433.5,427.48 435.5,427.95 436.5,428.63 438.5,429.07 440.5,429.81 441.5,430.79 443.5,432.5 444.5,434.61 446.5,436.71 448.5,439.36 449.5,442.63 451.5,445.76 452.5,448.63 454.5,451.37 456.5,453.98 457.5,456.75 459.5,459.94 460.5,463.13 462.5,465.78 464.5,467.91 465.5,469.66 467.5,471.19 468.5,472.28 470.5,473.35 471.5,474.38 473.5,475.66 475.5,477.38 476.5,479.23 478.5,481.51 479.5,483.55 481.5,485.05 483.5,486.35 484.5,487.52 486.5,488.56 487.5,489.36 489.5,489.59 491.5,489.16 492.5,488.24 494.5,486.91 495.5,485.26 497.5,483.51 499.5,481.47 500.5,479.28 502.5,476.81 503.5,474.18 505.5,471.49 506.5,468.98 508.5,466.78 510.5,464.82 511.5,463.01 513.5,461.58 514.5,460.44 516.5,459.51 518.5,458.69 519.5,457.78 521.5,456.69 522.5,455.71 524.5,454.76 526.5,453.99 527.5,453.52 529.5,453.12 530.5,452.8 532.5,452.37 534.5,451.97 535.5,451.61 537.5,451.42 538.5,451.16 540.5,450.91 542.5,450.55 543.5,450.17 545.5,449.75 546.5,449.28 548.5,449.04 549.5,448.97 551.5,449.02 553.5,449.05 554.5,448.93 556.5,448.56 557.5,447.98 559.5,447.24 561.5,446.39 562.5,445.69 564.5,445.1 565.5,444.35 567.5,443.36 569.5,442.43 570.5,441.88 572.5,441.54 573.5,441.15 575.5,440.7 577.5,440.6 578.5,440.83 580.5,441.75 581.5,443.31 583.5,445.28 584.5,447.14 586.5,448.81 588.5,450.86 589.5,453.14 591.5,455.38 592.5,458.06 594.5,461.82 596.5,466.41 597.5,471.23 599.5,476.29 600.5,481.64 602.5,486.55 604.5,490.51 605.5,493.39 607.5,495.36 608.5,496.27 610.5,496.23 612.5,495.34 613.5,493.99 615.5,492.08 616.5,489.74 618.5,487.4 619.5,484.98 621.5,482.27 623.5,479.4 624.5,477.0 626.5,475.27 627.5,473.68 629.5,472.49 631.5,471.14 632.5,469.56 634.5,467.9 635.5,465.91 637.5,463.66 639.5,461.18 640.5,458.69 642.5,456.16 643.5,453.83 645.5,451.89 647.5,450.45 648.5,449.78 650.5,450.07 651.5,450.53" fill="none" stroke="#3a22d0" stroke-width="1.1"/>
<polyline points="86.5,462.95 88.5,463.02 89.5,463.18 91.5,463.35 93.5,463.53 94.5,463.37 96.5,463.21 97.5,462.76 99.5,462.29 101.5,461.88 102.5,461.45 104.5,461.06 105.5,460.65 107.5,460.08 109.5,459.71 110.5,459.32 112.5,459.18 113.5,459.06 115.5,458.97 117.5,459.0 118.5,458.99 120.5,459.06 121.5,459.19 123.5,459.49 124.5,459.7 126.5,459.87 128.5,460.27 129.5,460.54 131.5,460.84 132.5,460.71 134.5,460.64 136.5,460.61 137.5,460.66 139.5,460.64 140.5,460.35 142.5,460.11 144.5,459.96 145.5,459.89 147.5,459.64 148.5,459.42 150.5,459.3 152.5,459.3 153.5,459.49 155.5,459.5 156.5,459.24 158.5,458.85 160.5,458.58 161.5,458.06 163.5,457.41 164.5,457.04 166.5,456.54 167.5,456.12 169.5,456.22 171.5,455.97 172.5,456.36 174.5,456.44 175.5,456.44 177.5,456.68 179.5,456.18 180.5,455.62 182.5,455.07 183.5,454.81 185.5,454.66 187.5,454.29 188.5,453.75 190.5,453.16 191.5,453.0 193.5,454.64 195.5,456.53 196.5,457.68 198.5,458.39 199.5,458.75 201.5,459.28 202.5,459.68 204.5,460.0 206.5,460.01 207.5,460.08 209.5,460.42 210.5,460.45 212.5,460.34 214.5,460.4 215.5,460.38 217.5,459.91 218.5,459.78 220.5,459.57 222.5,459.08 223.5,458.48 225.5,458.12 226.5,457.22 228.5,456.44 230.5,455.96 231.5,455.86 233.5,455.73 234.5,455.53 236.5,456.03 237.5,456.42 239.5,456.61 241.5,457.05 242.5,456.72 244.5,456.61 245.5,456.64 247.5,457.52 249.5,458.67 250.5,459.65 252.5,460.03 253.5,460.16 255.5,459.96 257.5,459.28 258.5,458.6 260.5,458.1 261.5,457.42 263.5,457.38 265.5,457.02 266.5,456.62 268.5,456.55 269.5,456.45 271.5,456.86 273.5,456.24 274.5,456.03 276.5,455.84 277.5,455.99 279.5,455.91 280.5,455.91 282.5,456.16 284.5,456.04 285.5,456.27 287.5,456.43 288.5,456.6 290.5,456.5 292.5,456.39 293.5,456.29 295.5,456.18 296.5,455.97 298.5,456.15 300.5,456.13 301.5,456.18 303.5,456.34 304.5,456.18 306.5,456.23 308.5,456.13 309.5,456.26 311.5,456.33 312.5,456.1 314.5,456.33 315.5,457.09 317.5,457.62 319.5,457.96 320.5,458.57 322.5,458.76 323.5,458.55 325.5,458.73 327.5,458.68 328.5,459.13 330.5,459.39 331.5,459.36 333.5,458.97 335.5,458.39 336.5,457.65 338.5,456.68 339.5,455.72 341.5,454.63 343.5,453.87 344.5,452.84 346.5,452.21 347.5,451.26 349.5,450.4 351.5,449.39 352.5,448.64 354.5,448.09 355.5,447.61 357.5,447.06 358.5,446.76 360.5,447.44 362.5,447.85 363.5,447.51 365.5,446.98 366.5,445.51 368.5,444.94 370.5,443.62 371.5,442.68 373.5,442.98 374.5,442.38 376.5,441.03 378.5,439.33 379.5,436.63 381.5,436.11 382.5,434.86 384.5,434.98 386.5,434.41 387.5,433.93 389.5,433.65 390.5,432.11 392.5,430.01 393.5,428.49 395.5,428.19 397.5,427.32 398.5,427.36 400.5,431.67 401.5,433.98 403.5,434.17 405.5,433.1 406.5,431.04 408.5,428.58 409.5,428.03 411.5,426.84 413.5,425.16 414.5,425.06 416.5,423.72 417.5,424.16 419.5,425.14 421.5,427.23 422.5,427.37 424.5,427.25 425.5,425.65 427.5,426.6 428.5,428.42 430.5,427.09 432.5,427.55 433.5,429.06 435.5,429.82 436.5,431.35 438.5,430.84 440.5,432.74 441.5,434.73 443.5,439.32 444.5,443.06 446.5,445.12 448.5,449.94 449.5,455.74 451.5,458.25 452.5,460.11 454.5,462.34 456.5,464.41 457.5,467.85 459.5,472.68 460.5,475.91 462.5,476.39 464.5,476.4 465.5,476.68 467.5,477.29 468.5,476.64 470.5,477.64 471.5,478.49 473.5,480.8 475.5,484.27 476.5,486.63 478.5,490.6 479.5,491.72 481.5,491.06 483.5,491.56 484.5,492.19 486.5,492.7 487.5,492.58 489.5,490.51 491.5,487.46 492.5,484.53 494.5,481.61 495.5,478.68 497.5,476.48 499.5,473.3 500.5,470.51 502.5,466.96 503.5,463.66 505.5,460.74 506.5,458.92 508.5,457.98 510.5,456.98 511.5,455.77 513.5,455.84 514.5,455.91 516.5,455.79 518.5,455.4 519.5,454.14 521.5,452.35 522.5,451.78 524.5,450.93 526.5,450.94 527.5,451.65 529.5,451.5 530.5,451.52 532.5,450.63 534.5,450.41 535.5,450.17 537.5,450.64 538.5,450.13 540.5,449.9 542.5,449.11 543.5,448.63 545.5,448.07 546.5,447.43 548.5,448.06 549.5,448.71 551.5,449.23 553.5,449.14 554.5,448.46 556.5,447.09 557.5,445.65 559.5,444.29 561.5,442.96 562.5,442.89 564.5,442.73 565.5,441.36 567.5,439.38 569.5,438.74 570.5,439.66 572.5,440.19 573.5,439.61 575.5,438.87 577.5,440.19 578.5,441.78 580.5,445.39 581.5,449.56 583.5,453.16 584.5,454.6 586.5,455.46 588.5,459.07 589.5,462.25 591.5,464.37 592.5,468.78 594.5,476.86 596.5,484.75 597.5,490.51 599.5,496.55 600.5,503.04 602.5,506.18 604.5,506.36 605.5,504.9 607.5,503.26 608.5,499.9 610.5,496.05 612.5,491.79 613.5,488.61 615.5,484.41 616.5,480.4 618.5,478.04 619.5,475.29 621.5,471.44 623.5,467.91 624.5,467.4 626.5,468.34 627.5,467.32 629.5,467.71 631.5,465.78 632.5,463.22 634.5,461.28 635.5,457.93 637.5,454.69 639.5,451.26 640.5,448.73 642.5,446.01 643.5,444.51 645.5,444.12 647.5,444.69 648.5,447.09 650.5,451.23 651.5,452.38" fill="none" stroke="#000" stroke-width="1.9" stroke-linejoin="round"/>
<rect x="44.5" y="29.5" width="612" height="97" fill="none" stroke="#c8c49c"/>
<rect x="44.5" y="126.5" width="612" height="276" fill="none" stroke="#c8c49c"/>
<rect x="44.5" y="417.5" width="612" height="97" fill="none" stroke="#c8c49c"/>
<text x="44.48" y="14.9" textLength="32.71" lengthAdjust="spacingAndGlyphs" style="font-family:'Liberation Sans';font-size:14.0px;font-weight:bold" fill="#000">$SPX</text>
<text x="80.89" y="14.9" textLength="132.54" lengthAdjust="spacingAndGlyphs" style="font-family:'Liberation Sans';font-size:11.43px;font-weight:normal" fill="#000" stroke="#000" stroke-width="0.14">(S&amp;P 500 Large Cap Index)</text>
<text x="216.99" y="13.6" textLength="21.74" lengthAdjust="spacingAndGlyphs" style="font-family:'Liberation Sans';font-size:8.86px;font-weight:normal" fill="#000" stroke="#000" stroke-width="0.14">INDX</text>
<text x="449.44" y="13.6" textLength="115.85" lengthAdjust="spacingAndGlyphs" style="font-family:'Liberation Sans';font-size:10.43px;font-weight:bold" fill="#7c7c7c">Objective Elliott Wave</text>
<text x="575.46" y="13.7" textLength="81.82" lengthAdjust="spacingAndGlyphs" style="font-family:'Liberation Sans';font-size:10.29px;font-weight:normal" fill="#7c7c7c" stroke="#7c7c7c" stroke-width="0.14">StockCharts.com</text>
<circle cx="570.3" cy="10.6" r="3.2" fill="none" stroke="#7c7c7c" stroke-width="1.1"/>
<path d="M571.6 9.4 A1.5 1.5 0 1 0 571.6 11.8" fill="none" stroke="#7c7c7c" stroke-width="0.9"/>
<text x="44.01" y="27.0" textLength="57.45" lengthAdjust="spacingAndGlyphs" style="font-family:'Liberation Sans';font-size:9.86px;font-weight:normal" fill="#000" stroke="#000" stroke-width="0.14">14-Oct-2011</text>
<text x="161.53" y="27.0" textLength="29.0" lengthAdjust="spacingAndGlyphs" style="font-family:'Liberation Sans';font-size:10.57px;font-weight:bold" fill="#000">Open</text>
<text x="238.07" y="27.0" textLength="24.55" lengthAdjust="spacingAndGlyphs" style="font-family:'Liberation Sans';font-size:10.57px;font-weight:bold" fill="#000">High</text>
<text x="310.21" y="27.0" textLength="23.79" lengthAdjust="spacingAndGlyphs" style="font-family:'Liberation Sans';font-size:10.57px;font-weight:bold" fill="#000">Low</text>
<text x="382.22" y="27.0" textLength="31.76" lengthAdjust="spacingAndGlyphs" style="font-family:'Liberation Sans';font-size:10.57px;font-weight:bold" fill="#000">Close</text>
<text x="463.2" y="27.0" textLength="41.95" lengthAdjust="spacingAndGlyphs" style="font-family:'Liberation Sans';font-size:10.57px;font-weight:bold" fill="#000">Volume</text>
<text x="542.42" y="27.0" textLength="22.48" lengthAdjust="spacingAndGlyphs" style="font-family:'Liberation Sans';font-size:10.57px;font-weight:bold" fill="#000">Chg</text>
<text x="194.21" y="27.0" textLength="37.22" lengthAdjust="spacingAndGlyphs" style="font-family:'Liberation Sans';font-size:9.86px;font-weight:normal" fill="#000" stroke="#000" stroke-width="0.14">1131.21</text>
<text x="266.1" y="27.0" textLength="38.32" lengthAdjust="spacingAndGlyphs" style="font-family:'Liberation Sans';font-size:9.86px;font-weight:normal" fill="#000" stroke="#000" stroke-width="0.14">1224.61</text>
<text x="338.32" y="27.0" textLength="37.59" lengthAdjust="spacingAndGlyphs" style="font-family:'Liberation Sans';font-size:9.86px;font-weight:normal" fill="#000" stroke="#000" stroke-width="0.14">1074.77</text>
<text x="417.81" y="27.0" textLength="38.21" lengthAdjust="spacingAndGlyphs" style="font-family:'Liberation Sans';font-size:9.86px;font-weight:normal" fill="#000" stroke="#000" stroke-width="0.14">1224.58</text>
<text x="508.15" y="27.0" textLength="28.85" lengthAdjust="spacingAndGlyphs" style="font-family:'Liberation Sans';font-size:9.86px;font-weight:normal" fill="#000" stroke="#000" stroke-width="0.14">37.2B</text>
<text x="567.57" y="27.0" textLength="79.26" lengthAdjust="spacingAndGlyphs" style="font-family:'Liberation Sans';font-size:9.86px;font-weight:normal" fill="#000" stroke="#000" stroke-width="0.14">+93.16 (+8.23%)</text>
<path d="M648.9 26.4 L652.55 21.9 L656.2 26.4 Z" fill="#2f5a2f"/>
<rect x="45" y="31" width="87" height="10.5" fill="#f8f7c9"/>
<path d="M47.4 39.5 L47.6 38.2 L49 35.6 L51.3 32.6 L52.3 33.8 L53.5 36.8 L54.8 36 L55.4 34.4 L55.6 39.5 Z" fill="#000" stroke="#2a1ee6" stroke-width="0.9" stroke-linejoin="round"/>
<text x="58.94" y="39.5" textLength="72.73" lengthAdjust="spacingAndGlyphs" style="font-family:'Liberation Sans';font-size:8.86px;font-weight:normal" fill="#000" stroke="#000" stroke-width="0.14">RSI(5) 46.60</text>
<text x="659.57" y="47.1" textLength="11.72" lengthAdjust="spacingAndGlyphs" style="font-family:'Liberation Sans';font-size:9.71px;font-weight:normal" fill="#000" stroke="#000" stroke-width="0.14">90</text>
<text x="659.57" y="63.9" textLength="11.72" lengthAdjust="spacingAndGlyphs" style="font-family:'Liberation Sans';font-size:9.71px;font-weight:normal" fill="#000" stroke="#000" stroke-width="0.14">70</text>
<text x="659.57" y="80.7" textLength="11.72" lengthAdjust="spacingAndGlyphs" style="font-family:'Liberation Sans';font-size:9.71px;font-weight:normal" fill="#000" stroke="#000" stroke-width="0.14">50</text>
<text x="659.57" y="97.5" textLength="11.72" lengthAdjust="spacingAndGlyphs" style="font-family:'Liberation Sans';font-size:9.71px;font-weight:normal" fill="#000" stroke="#000" stroke-width="0.14">30</text>
<text x="659.29" y="114.3" textLength="12.01" lengthAdjust="spacingAndGlyphs" style="font-family:'Liberation Sans';font-size:9.71px;font-weight:normal" fill="#000" stroke="#000" stroke-width="0.14">10</text>
<path d="M657 119.5h2M657 115.5h1.5M657 110.5h2M657 106.5h1.5M657 102.5h2M657 98.5h1.5M657 94.5h2M657 89.5h1.5M657 85.5h2M657 81.5h1.5M657 77.5h2M657 73.5h1.5M657 68.5h2M657 64.5h1.5M657 60.5h2M657 56.5h1.5M657 52.5h2M657 47.5h1.5M657 43.5h2M657 39.5h1.5M657 35.5h2" stroke="#c8c49c"/>
<path d="M464 53 h8 v7.5 h4 l-8 8.5 l-8 -8.5 h4 z" fill="#0a0af2"/>
<path d="M582 53 h8 v7.5 h4 l-8 8.5 l-8 -8.5 h4 z" fill="#0a0af2"/>
<rect x="491" y="98" width="84" height="12.5" fill="#222"/>
<rect x="489.5" y="96.5" width="83" height="12.5" fill="#fff" stroke="#555" stroke-width="1"/>
<text x="491.24" y="105.6" textLength="76.13" lengthAdjust="spacingAndGlyphs" style="font-family:'Liberation Sans';font-size:10.43px;font-weight:bold" fill="#0a0af0">B wave rallies</text>
<rect x="45" y="127" width="150" height="11.5" fill="#f8f7c9"/><rect x="45" y="138.5" width="88" height="10" fill="#f8f7c9"/><rect x="45" y="148.5" width="113" height="10" fill="#f8f7c9"/>
<path d="M48 129h1.2v6h-1.2zM47 130h3v1.1h-3zM51 132h1.2v6h-1.2zM50 136h3v1.1h-3zM54 129h1.2v7h-1.2zM53 134h3v1.1h-3z" fill="#000"/>
<text x="59.69" y="136.7" textLength="133.86" lengthAdjust="spacingAndGlyphs" style="font-family:'Liberation Sans';font-size:8.14px;font-weight:normal" fill="#000" stroke="#000" stroke-width="0.14">$SPX (Monthly) 1224.58</text>
<rect x="46.9" y="143" width="9.1" height="2.3" fill="#1a1a8a"/>
<text x="56.97" y="147.8" textLength="75.4" lengthAdjust="spacingAndGlyphs" style="font-family:'Liberation Sans';font-size:9.29px;font-weight:normal" fill="#1a1a8a" stroke="#1a1a8a" stroke-width="0.14">EMA(55) 1187.92</text>
<path d="M47.5 158V153M49.7 158V151M51.9 158V150.5M54.1 158V152.5" stroke="#b0bca8" stroke-width="1.6"/>
<text x="58.3" y="157.6" textLength="99.17" lengthAdjust="spacingAndGlyphs" style="font-family:'Liberation Sans';font-size:9.43px;font-weight:normal" fill="#4a90c8" stroke="#4a90c8" stroke-width="0.14">Volume 37,164,613,632</text>
<text x="660.64" y="147.0" textLength="22.51" lengthAdjust="spacingAndGlyphs" style="font-family:'Liberation Sans';font-size:9.71px;font-weight:normal" fill="#000" stroke="#000" stroke-width="0.14">1600</text>
<text x="660.64" y="158.44" textLength="22.51" lengthAdjust="spacingAndGlyphs" style="font-family:'Liberation Sans';font-size:9.71px;font-weight:normal" fill="#000" stroke="#000" stroke-width="0.14">1400</text>
<text x="660.64" y="171.65" textLength="22.51" lengthAdjust="spacingAndGlyphs" style="font-family:'Liberation Sans';font-size:9.71px;font-weight:normal" fill="#000" stroke="#000" stroke-width="0.14">1200</text>
<text x="660.64" y="187.28" textLength="22.51" lengthAdjust="spacingAndGlyphs" style="font-family:'Liberation Sans';font-size:9.71px;font-weight:normal" fill="#000" stroke="#000" stroke-width="0.14">1000</text>
<text x="665.88" y="196.31" textLength="17.48" lengthAdjust="spacingAndGlyphs" style="font-family:'Liberation Sans';font-size:9.71px;font-weight:normal" fill="#000" stroke="#000" stroke-width="0.14">900</text>
<text x="665.88" y="206.4" textLength="17.48" lengthAdjust="spacingAndGlyphs" style="font-family:'Liberation Sans';font-size:9.71px;font-weight:normal" fill="#000" stroke="#000" stroke-width="0.14">800</text>
<text x="665.88" y="217.85" textLength="17.48" lengthAdjust="spacingAndGlyphs" style="font-family:'Liberation Sans';font-size:9.71px;font-weight:normal" fill="#000" stroke="#000" stroke-width="0.14">700</text>
<text x="665.88" y="231.06" textLength="17.48" lengthAdjust="spacingAndGlyphs" style="font-family:'Liberation Sans';font-size:9.71px;font-weight:normal" fill="#000" stroke="#000" stroke-width="0.14">600</text>
<text x="665.88" y="246.68" textLength="17.48" lengthAdjust="spacingAndGlyphs" style="font-family:'Liberation Sans';font-size:9.71px;font-weight:normal" fill="#000" stroke="#000" stroke-width="0.14">500</text>
<text x="666.14" y="265.81" textLength="17.21" lengthAdjust="spacingAndGlyphs" style="font-family:'Liberation Sans';font-size:9.71px;font-weight:normal" fill="#000" stroke="#000" stroke-width="0.14">400</text>
<text x="665.88" y="290.46" textLength="17.48" lengthAdjust="spacingAndGlyphs" style="font-family:'Liberation Sans';font-size:9.71px;font-weight:normal" fill="#000" stroke="#000" stroke-width="0.14">300</text>
<text x="665.88" y="325.21" textLength="17.48" lengthAdjust="spacingAndGlyphs" style="font-family:'Liberation Sans';font-size:9.71px;font-weight:normal" fill="#000" stroke="#000" stroke-width="0.14">200</text>
<text x="665.6" y="384.61" textLength="17.76" lengthAdjust="spacingAndGlyphs" style="font-family:'Liberation Sans';font-size:9.71px;font-weight:normal" fill="#000" stroke="#000" stroke-width="0.14">100</text>
<path d="M657 381.5h2.5M657 373.5h1.5M657 365.5h1.5M657 358.5h1.5M657 352.5h1.5M657 346.5h1.5M657 340.5h1.5M657 335.5h1.5M657 330.5h1.5M657 326.5h1.5M657 321.5h2.5M657 313.5h1.5M657 306.5h1.5M657 299.5h1.5M657 292.5h1.5M657 287.5h2.5M657 281.5h1.5M657 276.5h1.5M657 271.5h1.5M657 266.5h1.5M657 262.5h2.5M657 252.5h1.5M657 243.5h2.5M657 235.5h1.5M657 227.5h2.5M657 220.5h1.5M657 214.5h2.5M657 208.5h1.5M657 203.5h2.5M657 197.5h1.5M657 192.5h2.5M657 188.5h1.5M657 183.5h2.5M657 179.5h1.5M657 175.5h1.5M657 171.5h1.5M657 168.5h2.5M657 164.5h1.5M657 161.5h1.5M657 158.5h1.5M657 155.5h2.5M657 152.5h1.5M657 149.5h1.5M657 146.5h1.5M657 143.5h2.5" stroke="#cfcba0"/>
<text x="17.2" y="321.8" textLength="24.84" lengthAdjust="spacingAndGlyphs" style="font-family:'Liberation Sans';font-size:9.71px;font-weight:normal" fill="#000" stroke="#000" stroke-width="0.14">150B</text>
<path d="M42 318.5h2" stroke="#c8c49c"/>
<text x="17.2" y="349.0" textLength="24.84" lengthAdjust="spacingAndGlyphs" style="font-family:'Liberation Sans';font-size:9.71px;font-weight:normal" fill="#000" stroke="#000" stroke-width="0.14">100B</text>
<path d="M42 346.5h2" stroke="#c8c49c"/>
<text x="23.48" y="376.2" textLength="18.48" lengthAdjust="spacingAndGlyphs" style="font-family:'Liberation Sans';font-size:9.71px;font-weight:normal" fill="#000" stroke="#000" stroke-width="0.14">50B</text>
<path d="M42 373.5h2" stroke="#c8c49c"/>
<text x="57.58" y="413.7" textLength="11.5" lengthAdjust="spacingAndGlyphs" style="font-family:'Liberation Sans';font-size:9.71px;font-weight:normal" fill="#000" stroke="#000" stroke-width="0.14">81</text>
<text x="57.58" y="524.8" textLength="11.5" lengthAdjust="spacingAndGlyphs" style="font-family:'Liberation Sans';font-size:9.43px;font-weight:normal" fill="#000" stroke="#000" stroke-width="0.14">81</text>
<text x="76.58" y="413.7" textLength="11.5" lengthAdjust="spacingAndGlyphs" style="font-family:'Liberation Sans';font-size:9.71px;font-weight:normal" fill="#000" stroke="#000" stroke-width="0.14">82</text>
<text x="76.58" y="524.8" textLength="11.5" lengthAdjust="spacingAndGlyphs" style="font-family:'Liberation Sans';font-size:9.43px;font-weight:normal" fill="#000" stroke="#000" stroke-width="0.14">82</text>
<text x="95.58" y="413.7" textLength="11.5" lengthAdjust="spacingAndGlyphs" style="font-family:'Liberation Sans';font-size:9.71px;font-weight:normal" fill="#000" stroke="#000" stroke-width="0.14">83</text>
<text x="95.58" y="524.8" textLength="11.5" lengthAdjust="spacingAndGlyphs" style="font-family:'Liberation Sans';font-size:9.43px;font-weight:normal" fill="#000" stroke="#000" stroke-width="0.14">83</text>
<text x="114.58" y="413.7" textLength="11.5" lengthAdjust="spacingAndGlyphs" style="font-family:'Liberation Sans';font-size:9.71px;font-weight:normal" fill="#000" stroke="#000" stroke-width="0.14">84</text>
<text x="114.58" y="524.8" textLength="11.5" lengthAdjust="spacingAndGlyphs" style="font-family:'Liberation Sans';font-size:9.43px;font-weight:normal" fill="#000" stroke="#000" stroke-width="0.14">84</text>
<text x="133.58" y="413.7" textLength="11.5" lengthAdjust="spacingAndGlyphs" style="font-family:'Liberation Sans';font-size:9.71px;font-weight:normal" fill="#000" stroke="#000" stroke-width="0.14">85</text>
<text x="133.58" y="524.8" textLength="11.5" lengthAdjust="spacingAndGlyphs" style="font-family:'Liberation Sans';font-size:9.43px;font-weight:normal" fill="#000" stroke="#000" stroke-width="0.14">85</text>
<text x="152.58" y="413.7" textLength="11.5" lengthAdjust="spacingAndGlyphs" style="font-family:'Liberation Sans';font-size:9.71px;font-weight:normal" fill="#000" stroke="#000" stroke-width="0.14">86</text>
<text x="152.58" y="524.8" textLength="11.5" lengthAdjust="spacingAndGlyphs" style="font-family:'Liberation Sans';font-size:9.43px;font-weight:normal" fill="#000" stroke="#000" stroke-width="0.14">86</text>
<text x="171.58" y="413.7" textLength="11.5" lengthAdjust="spacingAndGlyphs" style="font-family:'Liberation Sans';font-size:9.71px;font-weight:normal" fill="#000" stroke="#000" stroke-width="0.14">87</text>
<text x="171.58" y="524.8" textLength="11.5" lengthAdjust="spacingAndGlyphs" style="font-family:'Liberation Sans';font-size:9.43px;font-weight:normal" fill="#000" stroke="#000" stroke-width="0.14">87</text>
<text x="190.58" y="413.7" textLength="11.5" lengthAdjust="spacingAndGlyphs" style="font-family:'Liberation Sans';font-size:9.71px;font-weight:normal" fill="#000" stroke="#000" stroke-width="0.14">88</text>
<text x="190.58" y="524.8" textLength="11.5" lengthAdjust="spacingAndGlyphs" style="font-family:'Liberation Sans';font-size:9.43px;font-weight:normal" fill="#000" stroke="#000" stroke-width="0.14">88</text>
<text x="209.58" y="413.7" textLength="11.5" lengthAdjust="spacingAndGlyphs" style="font-family:'Liberation Sans';font-size:9.71px;font-weight:normal" fill="#000" stroke="#000" stroke-width="0.14">89</text>
<text x="209.58" y="524.8" textLength="11.5" lengthAdjust="spacingAndGlyphs" style="font-family:'Liberation Sans';font-size:9.43px;font-weight:normal" fill="#000" stroke="#000" stroke-width="0.14">89</text>
<text x="229.58" y="413.7" textLength="11.5" lengthAdjust="spacingAndGlyphs" style="font-family:'Liberation Sans';font-size:9.71px;font-weight:normal" fill="#000" stroke="#000" stroke-width="0.14">90</text>
<text x="229.58" y="524.8" textLength="11.5" lengthAdjust="spacingAndGlyphs" style="font-family:'Liberation Sans';font-size:9.43px;font-weight:normal" fill="#000" stroke="#000" stroke-width="0.14">90</text>
<text x="248.58" y="413.7" textLength="11.5" lengthAdjust="spacingAndGlyphs" style="font-family:'Liberation Sans';font-size:9.71px;font-weight:normal" fill="#000" stroke="#000" stroke-width="0.14">91</text>
<text x="248.58" y="524.8" textLength="11.5" lengthAdjust="spacingAndGlyphs" style="font-family:'Liberation Sans';font-size:9.43px;font-weight:normal" fill="#000" stroke="#000" stroke-width="0.14">91</text>
<text x="267.58" y="413.7" textLength="11.5" lengthAdjust="spacingAndGlyphs" style="font-family:'Liberation Sans';font-size:9.71px;font-weight:normal" fill="#000" stroke="#000" stroke-width="0.14">92</text>
<text x="267.58" y="524.8" textLength="11.5" lengthAdjust="spacingAndGlyphs" style="font-family:'Liberation Sans';font-size:9.43px;font-weight:normal" fill="#000" stroke="#000" stroke-width="0.14">92</text>
<text x="286.58" y="413.7" textLength="11.5" lengthAdjust="spacingAndGlyphs" style="font-family:'Liberation Sans';font-size:9.71px;font-weight:normal" fill="#000" stroke="#000" stroke-width="0.14">93</text>
<text x="286.58" y="524.8" textLength="11.5" lengthAdjust="spacingAndGlyphs" style="font-family:'Liberation Sans';font-size:9.43px;font-weight:normal" fill="#000" stroke="#000" stroke-width="0.14">93</text>
<text x="305.58" y="413.7" textLength="11.5" lengthAdjust="spacingAndGlyphs" style="font-family:'Liberation Sans';font-size:9.71px;font-weight:normal" fill="#000" stroke="#000" stroke-width="0.14">94</text>
<text x="305.58" y="524.8" textLength="11.5" lengthAdjust="spacingAndGlyphs" style="font-family:'Liberation Sans';font-size:9.43px;font-weight:normal" fill="#000" stroke="#000" stroke-width="0.14">94</text>
<text x="324.58" y="413.7" textLength="11.5" lengthAdjust="spacingAndGlyphs" style="font-family:'Liberation Sans';font-size:9.71px;font-weight:normal" fill="#000" stroke="#000" stroke-width="0.14">95</text>
<text x="324.58" y="524.8" textLength="11.5" lengthAdjust="spacingAndGlyphs" style="font-family:'Liberation Sans';font-size:9.43px;font-weight:normal" fill="#000" stroke="#000" stroke-width="0.14">95</text>
<text x="343.58" y="413.7" textLength="11.5" lengthAdjust="spacingAndGlyphs" style="font-family:'Liberation Sans';font-size:9.71px;font-weight:normal" fill="#000" stroke="#000" stroke-width="0.14">96</text>
<text x="343.58" y="524.8" textLength="11.5" lengthAdjust="spacingAndGlyphs" style="font-family:'Liberation Sans';font-size:9.43px;font-weight:normal" fill="#000" stroke="#000" stroke-width="0.14">96</text>
<text x="362.58" y="413.7" textLength="11.5" lengthAdjust="spacingAndGlyphs" style="font-family:'Liberation Sans';font-size:9.71px;font-weight:normal" fill="#000" stroke="#000" stroke-width="0.14">97</text>
<text x="362.58" y="524.8" textLength="11.5" lengthAdjust="spacingAndGlyphs" style="font-family:'Liberation Sans';font-size:9.43px;font-weight:normal" fill="#000" stroke="#000" stroke-width="0.14">97</text>
<text x="381.58" y="413.7" textLength="11.5" lengthAdjust="spacingAndGlyphs" style="font-family:'Liberation Sans';font-size:9.71px;font-weight:normal" fill="#000" stroke="#000" stroke-width="0.14">98</text>
<text x="381.58" y="524.8" textLength="11.5" lengthAdjust="spacingAndGlyphs" style="font-family:'Liberation Sans';font-size:9.43px;font-weight:normal" fill="#000" stroke="#000" stroke-width="0.14">98</text>
<text x="400.58" y="413.7" textLength="11.5" lengthAdjust="spacingAndGlyphs" style="font-family:'Liberation Sans';font-size:9.71px;font-weight:normal" fill="#000" stroke="#000" stroke-width="0.14">99</text>
<text x="400.58" y="524.8" textLength="11.5" lengthAdjust="spacingAndGlyphs" style="font-family:'Liberation Sans';font-size:9.43px;font-weight:normal" fill="#000" stroke="#000" stroke-width="0.14">99</text>
<text x="420.58" y="413.7" textLength="11.5" lengthAdjust="spacingAndGlyphs" style="font-family:'Liberation Sans';font-size:9.71px;font-weight:normal" fill="#000" stroke="#000" stroke-width="0.14">00</text>
<text x="420.58" y="524.8" textLength="11.5" lengthAdjust="spacingAndGlyphs" style="font-family:'Liberation Sans';font-size:9.43px;font-weight:normal" fill="#000" stroke="#000" stroke-width="0.14">00</text>
<text x="439.58" y="413.7" textLength="11.5" lengthAdjust="spacingAndGlyphs" style="font-family:'Liberation Sans';font-size:9.71px;font-weight:normal" fill="#000" stroke="#000" stroke-width="0.14">01</text>
<text x="439.58" y="524.8" textLength="11.5" lengthAdjust="spacingAndGlyphs" style="font-family:'Liberation Sans';font-size:9.43px;font-weight:normal" fill="#000" stroke="#000" stroke-width="0.14">01</text>
<text x="458.58" y="413.7" textLength="11.5" lengthAdjust="spacingAndGlyphs" style="font-family:'Liberation Sans';font-size:9.71px;font-weight:normal" fill="#000" stroke="#000" stroke-width="0.14">02</text>
<text x="458.58" y="524.8" textLength="11.5" lengthAdjust="spacingAndGlyphs" style="font-family:'Liberation Sans';font-size:9.43px;font-weight:normal" fill="#000" stroke="#000" stroke-width="0.14">02</text>
<text x="477.58" y="413.7" textLength="11.5" lengthAdjust="spacingAndGlyphs" style="font-family:'Liberation Sans';font-size:9.71px;font-weight:normal" fill="#000" stroke="#000" stroke-width="0.14">03</text>
<text x="477.58" y="524.8" textLength="11.5" lengthAdjust="spacingAndGlyphs" style="font-family:'Liberation Sans';font-size:9.43px;font-weight:normal" fill="#000" stroke="#000" stroke-width="0.14">03</text>
<text x="496.58" y="413.7" textLength="11.5" lengthAdjust="spacingAndGlyphs" style="font-family:'Liberation Sans';font-size:9.71px;font-weight:normal" fill="#000" stroke="#000" stroke-width="0.14">04</text>
<text x="496.58" y="524.8" textLength="11.5" lengthAdjust="spacingAndGlyphs" style="font-family:'Liberation Sans';font-size:9.43px;font-weight:normal" fill="#000" stroke="#000" stroke-width="0.14">04</text>
<text x="515.58" y="413.7" textLength="11.5" lengthAdjust="spacingAndGlyphs" style="font-family:'Liberation Sans';font-size:9.71px;font-weight:normal" fill="#000" stroke="#000" stroke-width="0.14">05</text>
<text x="515.58" y="524.8" textLength="11.5" lengthAdjust="spacingAndGlyphs" style="font-family:'Liberation Sans';font-size:9.43px;font-weight:normal" fill="#000" stroke="#000" stroke-width="0.14">05</text>
<text x="534.58" y="413.7" textLength="11.5" lengthAdjust="spacingAndGlyphs" style="font-family:'Liberation Sans';font-size:9.71px;font-weight:normal" fill="#000" stroke="#000" stroke-width="0.14">06</text>
<text x="534.58" y="524.8" textLength="11.5" lengthAdjust="spacingAndGlyphs" style="font-family:'Liberation Sans';font-size:9.43px;font-weight:normal" fill="#000" stroke="#000" stroke-width="0.14">06</text>
<text x="553.58" y="413.7" textLength="11.5" lengthAdjust="spacingAndGlyphs" style="font-family:'Liberation Sans';font-size:9.71px;font-weight:normal" fill="#000" stroke="#000" stroke-width="0.14">07</text>
<text x="553.58" y="524.8" textLength="11.5" lengthAdjust="spacingAndGlyphs" style="font-family:'Liberation Sans';font-size:9.43px;font-weight:normal" fill="#000" stroke="#000" stroke-width="0.14">07</text>
<text x="572.58" y="413.7" textLength="11.5" lengthAdjust="spacingAndGlyphs" style="font-family:'Liberation Sans';font-size:9.71px;font-weight:normal" fill="#000" stroke="#000" stroke-width="0.14">08</text>
<text x="572.58" y="524.8" textLength="11.5" lengthAdjust="spacingAndGlyphs" style="font-family:'Liberation Sans';font-size:9.43px;font-weight:normal" fill="#000" stroke="#000" stroke-width="0.14">08</text>
<text x="591.58" y="413.7" textLength="11.5" lengthAdjust="spacingAndGlyphs" style="font-family:'Liberation Sans';font-size:9.71px;font-weight:normal" fill="#000" stroke="#000" stroke-width="0.14">09</text>
<text x="591.58" y="524.8" textLength="11.5" lengthAdjust="spacingAndGlyphs" style="font-family:'Liberation Sans';font-size:9.43px;font-weight:normal" fill="#000" stroke="#000" stroke-width="0.14">09</text>
<text x="611.31" y="413.7" textLength="11.79" lengthAdjust="spacingAndGlyphs" style="font-family:'Liberation Sans';font-size:9.71px;font-weight:normal" fill="#000" stroke="#000" stroke-width="0.14">10</text>
<text x="611.31" y="524.8" textLength="11.79" lengthAdjust="spacingAndGlyphs" style="font-family:'Liberation Sans';font-size:9.43px;font-weight:normal" fill="#000" stroke="#000" stroke-width="0.14">10</text>
<text x="630.88" y="413.7" textLength="10.66" lengthAdjust="spacingAndGlyphs" style="font-family:'Liberation Sans';font-size:9.71px;font-weight:normal" fill="#000" stroke="#000" stroke-width="0.14">11</text>
<text x="630.88" y="524.8" textLength="10.66" lengthAdjust="spacingAndGlyphs" style="font-family:'Liberation Sans';font-size:9.43px;font-weight:normal" fill="#000" stroke="#000" stroke-width="0.14">11</text>
<path d="M64.5 403v2.5M64.5 414.5v2.5M64.5 515v2M83.5 403v2.5M83.5 414.5v2.5M83.5 515v2M102.5 403v2.5M102.5 414.5v2.5M102.5 515v2M121.5 403v2.5M121.5 414.5v2.5M121.5 515v2M140.5 403v2.5M140.5 414.5v2.5M140.5 515v2M159.5 403v2.5M159.5 414.5v2.5M159.5 515v2M178.5 403v2.5M178.5 414.5v2.5M178.5 515v2M197.5 403v2.5M197.5 414.5v2.5M197.5 515v2M216.5 403v2.5M216.5 414.5v2.5M216.5 515v2M236.5 403v2.5M236.5 414.5v2.5M236.5 515v2M255.5 403v2.5M255.5 414.5v2.5M255.5 515v2M274.5 403v2.5M274.5 414.5v2.5M274.5 515v2M293.5 403v2.5M293.5 414.5v2.5M293.5 515v2M312.5 403v2.5M312.5 414.5v2.5M312.5 515v2M331.5 403v2.5M331.5 414.5v2.5M331.5 515v2M350.5 403v2.5M350.5 414.5v2.5M350.5 515v2M369.5 403v2.5M369.5 414.5v2.5M369.5 515v2M388.5 403v2.5M388.5 414.5v2.5M388.5 515v2M407.5 403v2.5M407.5 414.5v2.5M407.5 515v2M427.5 403v2.5M427.5 414.5v2.5M427.5 515v2M446.5 403v2.5M446.5 414.5v2.5M446.5 515v2M465.5 403v2.5M465.5 414.5v2.5M465.5 515v2M484.5 403v2.5M484.5 414.5v2.5M484.5 515v2M503.5 403v2.5M503.5 414.5v2.5M503.5 515v2M522.5 403v2.5M522.5 414.5v2.5M522.5 515v2M541.5 403v2.5M541.5 414.5v2.5M541.5 515v2M560.5 403v2.5M560.5 414.5v2.5M560.5 515v2M579.5 403v2.5M579.5 414.5v2.5M579.5 515v2M598.5 403v2.5M598.5 414.5v2.5M598.5 515v2M618.5 403v2.5M618.5 414.5v2.5M618.5 515v2M637.5 403v2.5M637.5 414.5v2.5M637.5 515v2" stroke="#c8c49c"/>
<rect x="45" y="418" width="235" height="12" fill="#f8f7c9"/>
<rect x="47.3" y="423" width="8.2" height="2.4" fill="#000"/>
<text x="58.36" y="427.7" textLength="128.86" lengthAdjust="spacingAndGlyphs" style="font-family:'Liberation Sans';font-size:9.71px;font-weight:normal" fill="#000" stroke="#000" stroke-width="0.14">MACD(12,26,9) 33.954</text>
<text x="186.18" y="427.7" textLength="47.64" lengthAdjust="spacingAndGlyphs" style="font-family:'Liberation Sans';font-size:9.71px;font-weight:normal" fill="#2a2ab8" stroke="#2a2ab8" stroke-width="0.14">, 40.174</text>
<text x="233.16" y="427.7" textLength="45.29" lengthAdjust="spacingAndGlyphs" style="font-family:'Liberation Sans';font-size:9.71px;font-weight:normal" fill="#888888" stroke="#888888" stroke-width="0.14">, -6.220</text>
<text x="662.38" y="436.1" textLength="18.3" lengthAdjust="spacingAndGlyphs" style="font-family:'Liberation Sans';font-size:9.71px;font-weight:normal" fill="#000" stroke="#000" stroke-width="0.14">100</text>
<text x="667.72" y="451.0" textLength="12.92" lengthAdjust="spacingAndGlyphs" style="font-family:'Liberation Sans';font-size:9.71px;font-weight:normal" fill="#000" stroke="#000" stroke-width="0.14">50</text>
<text x="674.23" y="465.9" textLength="6.32" lengthAdjust="spacingAndGlyphs" style="font-family:'Liberation Sans';font-size:9.71px;font-weight:normal" fill="#000" stroke="#000" stroke-width="0.14">0</text>
<text x="665.58" y="480.8" textLength="15.1" lengthAdjust="spacingAndGlyphs" style="font-family:'Liberation Sans';font-size:9.71px;font-weight:normal" fill="#000" stroke="#000" stroke-width="0.14">-50</text>
<text x="659.27" y="495.7" textLength="21.21" lengthAdjust="spacingAndGlyphs" style="font-family:'Liberation Sans';font-size:9.71px;font-weight:normal" fill="#000" stroke="#000" stroke-width="0.14">-100</text>
<text x="659.27" y="510.6" textLength="21.21" lengthAdjust="spacingAndGlyphs" style="font-family:'Liberation Sans';font-size:9.71px;font-weight:normal" fill="#000" stroke="#000" stroke-width="0.14">-150</text>
<path d="M657 507.5h2M657 492.5h2M657 477.5h2M657 462.5h2M657 447.5h2M657 433.5h2" stroke="#c8c49c"/>
<path d="M64.0 528h1M83.0 528h1M102.0 528h1M121.0 528h1M140.0 528h1M159.0 528h1M178.0 528h1M197.0 528h1M216.0 528h1M236.0 528h1M255.0 528h1M274.0 528h1M293.0 528h1M312.0 528h1M331.0 528h1M350.0 528h1M369.0 528h1M388.0 528h1M407.0 528h1M427.0 528h1M446.0 528h1M465.0 528h1M484.0 528h1M503.0 528h1M522.0 528h1M541.0 528h1M560.0 528h1M579.0 528h1M598.0 528h1M618.0 528h1M637.0 528h1" stroke="#d8d4b0" stroke-width="1"/>
<rect x="34.5" y="389.5" width="26.0" height="9.0" fill="#ffffff" fill-opacity="0.86" stroke="#e0dcb6"/><path d="M43.3 390.0 L48.3 385.0 L53.3 390.0 Z" fill="#efefe9"/><text x="35.54" y="397.8" textLength="23.25" lengthAdjust="spacingAndGlyphs" style="font-family:'Liberation Sans';font-size:9.71px;font-weight:normal" fill="#000" stroke="#000" stroke-width="0.3">97.72</text>
<rect x="46.5" y="336.5" width="30.0" height="9.0" fill="#ffffff" fill-opacity="0.86" stroke="#e0dcb6"/><path d="M56.3 345.0 L61.3 350.0 L66.3 345.0 Z" fill="#efefe9"/><text x="47.32" y="344.2" textLength="27.68" lengthAdjust="spacingAndGlyphs" style="font-family:'Liberation Sans';font-size:9.71px;font-weight:normal" fill="#000" stroke="#000" stroke-width="0.3">141.96</text>
<rect x="78.5" y="385.5" width="30.0" height="9.0" fill="#ffffff" fill-opacity="0.86" stroke="#e0dcb6"/><path d="M89.3 386.0 L94.3 381.0 L99.3 386.0 Z" fill="#efefe9"/><text x="79.62" y="393.8" textLength="27.68" lengthAdjust="spacingAndGlyphs" style="font-family:'Liberation Sans';font-size:9.71px;font-weight:normal" fill="#000" stroke="#000" stroke-width="0.3">101.44</text>
<rect x="173.5" y="260.5" width="31.0" height="10.0" fill="#ffffff" fill-opacity="0.86" stroke="#e0dcb6"/><path d="M184.4 270.0 L189.4 275.0 L194.4 270.0 Z" fill="#efefe9"/><text x="174.95" y="269.1" textLength="27.66" lengthAdjust="spacingAndGlyphs" style="font-family:'Liberation Sans';font-size:9.71px;font-weight:normal" fill="#000" stroke="#000" stroke-width="0.3">337.88</text>
<rect x="178.5" y="320.5" width="30.0" height="10.0" fill="#ffffff" fill-opacity="0.86" stroke="#e0dcb6"/><path d="M188.3 321.0 L193.3 316.0 L198.3 321.0 Z" fill="#efefe9"/><text x="179.15" y="329.1" textLength="27.55" lengthAdjust="spacingAndGlyphs" style="font-family:'Liberation Sans';font-size:9.71px;font-weight:normal" fill="#000" stroke="#000" stroke-width="0.3">216.46</text>
<rect x="229.5" y="253.5" width="30.0" height="10.0" fill="#ffffff" fill-opacity="0.86" stroke="#e0dcb6"/><path d="M240.4 263.0 L245.4 268.0 L250.4 263.0 Z" fill="#efefe9"/><text x="230.85" y="262.1" textLength="27.45" lengthAdjust="spacingAndGlyphs" style="font-family:'Liberation Sans';font-size:9.71px;font-weight:normal" fill="#000" stroke="#000" stroke-width="0.3">369.00</text>
<rect x="234.5" y="294.5" width="30.0" height="10.0" fill="#ffffff" fill-opacity="0.86" stroke="#e0dcb6"/><path d="M245.5 295.0 L250.5 290.0 L255.5 295.0 Z" fill="#efefe9"/><text x="235.85" y="303.2" textLength="27.45" lengthAdjust="spacingAndGlyphs" style="font-family:'Liberation Sans';font-size:9.71px;font-weight:normal" fill="#000" stroke="#000" stroke-width="0.3">294.00</text>
<rect x="387.5" y="196.5" width="30.0" height="9.0" fill="#ffffff" fill-opacity="0.86" stroke="#e0dcb6"/><path d="M398.2 197.0 L403.2 192.0 L408.2 197.0 Z" fill="#efefe9"/><text x="388.75" y="205.0" textLength="27.79" lengthAdjust="spacingAndGlyphs" style="font-family:'Liberation Sans';font-size:9.71px;font-weight:normal" fill="#000" stroke="#000" stroke-width="0.3">923.32</text>
<rect x="412.5" y="130.5" width="34.0" height="9.0" fill="#ffffff" fill-opacity="0.86" stroke="#e0dcb6"/><path d="M425.8 139.0 L430.8 144.0 L435.8 139.0 Z" fill="#efefe9"/><text x="413.22" y="139.0" textLength="32.05" lengthAdjust="spacingAndGlyphs" style="font-family:'Liberation Sans';font-size:9.71px;font-weight:normal" fill="#000" stroke="#000" stroke-width="0.3">1553.11</text>
<rect x="464.5" y="213.5" width="30.0" height="9.0" fill="#ffffff" fill-opacity="0.86" stroke="#e0dcb6"/><path d="M474.4 214.0 L479.4 209.0 L484.4 214.0 Z" fill="#efefe9"/><text x="465.15" y="221.3" textLength="27.66" lengthAdjust="spacingAndGlyphs" style="font-family:'Liberation Sans';font-size:9.71px;font-weight:normal" fill="#000" stroke="#000" stroke-width="0.3">768.63</text>
<rect x="557.5" y="130.5" width="34.0" height="9.0" fill="#ffffff" fill-opacity="0.86" stroke="#e0dcb6"/><path d="M570.3 139.0 L575.3 144.0 L580.3 139.0 Z" fill="#efefe9"/><text x="558.34" y="138.5" textLength="31.6" lengthAdjust="spacingAndGlyphs" style="font-family:'Liberation Sans';font-size:9.71px;font-weight:normal" fill="#000" stroke="#000" stroke-width="0.3">1576.09</text>
<rect x="586.5" y="224.5" width="30.0" height="9.0" fill="#ffffff" fill-opacity="0.86" stroke="#e0dcb6"/><path d="M597.3 225.0 L602.3 220.0 L607.3 225.0 Z" fill="#efefe9"/><text x="587.75" y="233.0" textLength="27.68" lengthAdjust="spacingAndGlyphs" style="font-family:'Liberation Sans';font-size:9.71px;font-weight:normal" fill="#000" stroke="#000" stroke-width="0.3">666.79</text>
<rect x="625.5" y="140.5" width="34.0" height="10.0" fill="#ffffff" fill-opacity="0.86" stroke="#e0dcb6"/><path d="M638.2 150.0 L643.2 155.0 L648.2 150.0 Z" fill="#efefe9"/><text x="626.65" y="149.2" textLength="31.19" lengthAdjust="spacingAndGlyphs" style="font-family:'Liberation Sans';font-size:9.71px;font-weight:normal" fill="#000" stroke="#000" stroke-width="0.3">1370.58</text>
<path d="M94 397 L102 404.6 H98 V412.5 H90 V404.6 H86 Z" fill="#007a00"/>
<path d="M172.5 314.2 L180.5 321.8 H176.5 V329.7 H168.5 V321.8 H164.5 Z" fill="#007a00"/>
<path d="M248 323 L256 330.6 H252 V338.5 H244 V330.6 H240 Z" fill="#007a00"/>
<path d="M318 275 L326 282.6 H322 V290.5 H314 V282.6 H310 Z" fill="#007a00"/>
<path d="M401 228 L409 235.6 H405 V243.5 H397 V235.6 H393 Z" fill="#007a00"/>
<path d="M479 238.5 L487 246.1 H483 V254.0 H475 V246.1 H471 Z" fill="#007a00"/>
<path d="M551 295.5 L559 303.1 H555 V311.0 H547 V303.1 H543 Z" fill="#007a00"/>
<path d="M551.3 174.2 L559.3 181.79999999999998 H555.3 V189.7 H547.3 V181.79999999999998 H543.3 Z" fill="#007a00"/>
<path d="M629.2 200.3 L637.2 207.9 H633.2 V215.8 H625.2 V207.9 H621.2 Z" fill="#007a00"/>
<rect x="60" y="321" width="2" height="12" fill="#0a0af4"/>
<rect x="111" y="385" width="2" height="12" fill="#0a0af4"/>
<rect x="115" y="385" width="2" height="12" fill="#0a0af4"/>
<rect x="426" y="115" width="2" height="12" fill="#0a0af4"/>
<rect x="430" y="115" width="2" height="12" fill="#0a0af4"/>
<rect x="434" y="115" width="2" height="12" fill="#0a0af4"/>
<text x="110.0" y="330.7" style="font-family:'Liberation Sans';font-size:16px;font-weight:bold" fill="#000">1</text>
<text x="123.8" y="365.7" style="font-family:'Liberation Sans';font-size:16px;font-weight:bold" fill="#000">2</text>
<text x="184.3" y="258.4" style="font-family:'Liberation Sans';font-size:16px;font-weight:bold" fill="#000">3</text>
<text x="186.00" y="348.5" textLength="57.12" lengthAdjust="spacingAndGlyphs" style="font-family:'Liberation Sans';font-size:16px;font-weight:bold" fill="#000">4 major</text>
<text x="241.6" y="250.5" style="font-family:'Liberation Sans';font-size:16px;font-weight:bold" fill="#800080">i</text>
<text x="246.79" y="319.5" textLength="109.80" lengthAdjust="spacingAndGlyphs" style="font-family:'Liberation Sans';font-size:16px;font-weight:bold" fill="#800080">ii intermediate</text>
<text x="305.9" y="242.5" style="font-family:'Liberation Sans';font-size:16px;font-weight:bold" fill="#333399">1</text>
<text x="322.7" y="242.8" style="font-family:'Liberation Sans';font-size:16px;font-weight:bold" fill="#1a8080">i</text>
<text x="308.5" y="271.0" style="font-family:'Liberation Sans';font-size:16px;font-weight:bold" fill="#333399">2</text>
<text x="322.3" y="271.0" style="font-family:'Liberation Sans';font-size:16px;font-weight:bold" fill="#1a8080">ii</text>
<text x="349.4" y="211.1" style="font-family:'Liberation Sans';font-size:16px;font-weight:bold" fill="#1a8080">iii</text>
<text x="354.5" y="241.3" style="font-family:'Liberation Sans';font-size:16px;font-weight:bold" fill="#1a8080">iv</text>
<text x="374.2" y="181.5" style="font-family:'Liberation Sans';font-size:16px;font-weight:bold" fill="#333399">3</text>
<text x="378.7" y="214.5" style="font-family:'Liberation Sans';font-size:16px;font-weight:bold" fill="#333399">4</text>
<text x="389.6" y="163.5" style="font-family:'Liberation Sans';font-size:16px;font-weight:bold" fill="#800080">iii</text>
<text x="395.6" y="223.8" style="font-family:'Liberation Sans';font-size:16px;font-weight:bold" fill="#800080">iv</text>
<text x="462.0" y="161.7" style="font-family:'Liberation Sans';font-size:16px;font-weight:bold" fill="#000">b</text>
<text x="453.0" y="207.0" style="font-family:'Liberation Sans';font-size:16px;font-weight:bold" fill="#000">a</text>
<text x="481.3" y="183.0" style="font-family:'Liberation Sans';font-size:16px;font-weight:bold" fill="#000">1</text>
<text x="489.8" y="211.7" style="font-family:'Liberation Sans';font-size:16px;font-weight:bold" fill="#000">2</text>
<text x="498.0" y="165.5" style="font-family:'Liberation Sans';font-size:16px;font-weight:bold" fill="#000">3</text>
<text x="507.7" y="194.7" style="font-family:'Liberation Sans';font-size:16px;font-weight:bold" fill="#000">4</text>
<text x="457.38" y="236.4" textLength="79.89" lengthAdjust="spacingAndGlyphs" style="font-family:'Liberation Sans';font-size:16px;font-weight:bold" fill="#0a0af0">IV primary</text>
<text x="559.8" y="127.7" style="font-family:'Liberation Sans';font-size:16px;font-weight:bold" fill="#22e6f0">SC1</text>
<text x="585.6" y="148.2" style="font-family:'Liberation Sans';font-size:16px;font-weight:bold" fill="#90c0f6">[b]</text>
<text x="569.6" y="183.0" style="font-family:'Liberation Sans';font-size:16px;font-weight:bold" fill="#90c0f6">[a]</text>
<text x="630.0" y="136.9" style="font-family:'Liberation Sans';font-size:16px;font-weight:bold" fill="#90c0f6">[1]</text>
<text x="642.2" y="196.2" style="font-family:'Liberation Sans';font-size:16px;font-weight:bold" fill="#0a0af0">A</text>
<text x="583.2" y="250.4" style="font-family:'Liberation Sans';font-size:16px;font-weight:bold" fill="#22e6f0">SC2</text>
<rect x="430" y="290.5" width="105.5" height="28" fill="#222"/>
<rect x="428" y="288.5" width="105.5" height="28" fill="#fff" stroke="#555" stroke-width="1"/>
<text x="429.31" y="298.8" textLength="48.94" lengthAdjust="spacingAndGlyphs" style="font-family:'Liberation Sans';font-size:10.4px;font-weight:bold" fill="#108010">four year</text>
<text x="428.73" y="313.2" textLength="97.78" lengthAdjust="spacingAndGlyphs" style="font-family:'Liberation Sans';font-size:11.47px;font-weight:bold" fill="#108010">presidential cycle</text>
</svg>
</body></html>
